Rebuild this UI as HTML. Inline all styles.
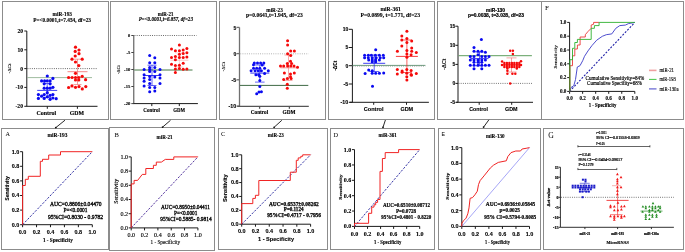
<!DOCTYPE html>
<html><head><meta charset="utf-8"><style>
html,body{margin:0;padding:0;background:#fff;width:685px;height:252px;overflow:hidden}
svg{display:block;will-change:transform}
text{stroke:currentColor;stroke-width:0.12px}
</style></head><body>
<svg width="685" height="252" viewBox="0 0 685 252" shape-rendering="geometricPrecision">
<rect width="685" height="252" fill="#fff"/>
<rect x="2.5" y="1.5" width="106" height="118" fill="none" stroke="#8c8c8c" stroke-width="1"/>
<rect x="110.5" y="1.5" width="106" height="118" fill="none" stroke="#8c8c8c" stroke-width="1"/>
<rect x="219.5" y="1.5" width="106" height="118" fill="none" stroke="#8c8c8c" stroke-width="1"/>
<rect x="328.5" y="1.5" width="106" height="118" fill="none" stroke="#8c8c8c" stroke-width="1"/>
<rect x="437.5" y="1.5" width="104" height="118" fill="none" stroke="#8c8c8c" stroke-width="1"/>
<rect x="541.5" y="1.5" width="142" height="118" fill="none" stroke="#8c8c8c" stroke-width="1"/>
<rect x="1.5" y="128.5" width="107" height="121" fill="none" stroke="#8c8c8c" stroke-width="1"/>
<rect x="109.5" y="127.5" width="105" height="123" fill="none" stroke="#8c8c8c" stroke-width="1"/>
<rect x="218.5" y="128.5" width="109" height="121" fill="none" stroke="#8c8c8c" stroke-width="1"/>
<rect x="330.5" y="128.5" width="104" height="121" fill="none" stroke="#8c8c8c" stroke-width="1"/>
<rect x="438.5" y="128.5" width="102" height="121" fill="none" stroke="#8c8c8c" stroke-width="1"/>
<rect x="543.5" y="128.5" width="140" height="121" fill="none" stroke="#8c8c8c" stroke-width="1"/>
<line x1="65.00" y1="120.20" x2="55.80" y2="127.60" stroke="#111" stroke-width="0.9" />
<circle cx="55.80" cy="127.60" r="0.9" fill="#111"/>
<line x1="170.50" y1="120.30" x2="162.60" y2="127.10" stroke="#111" stroke-width="0.9" />
<circle cx="162.60" cy="127.10" r="0.9" fill="#111"/>
<line x1="281.80" y1="120.30" x2="274.10" y2="127.30" stroke="#111" stroke-width="0.9" />
<circle cx="274.10" cy="127.30" r="0.9" fill="#111"/>
<line x1="385.40" y1="120.00" x2="383.00" y2="127.30" stroke="#111" stroke-width="0.9" />
<circle cx="383.00" cy="127.30" r="0.9" fill="#111"/>
<line x1="488.90" y1="119.80" x2="483.60" y2="127.10" stroke="#111" stroke-width="0.9" />
<circle cx="483.60" cy="127.10" r="0.9" fill="#111"/>
<text x="52.60" y="16.00" font-family="'Liberation Serif', serif" font-weight="bold" font-size="5.8" fill="#000" textLength="19.40" lengthAdjust="spacingAndGlyphs">miR-193</text>
<text x="33.20" y="21.60" font-family="'Liberation Serif', serif" font-weight="bold" font-size="5.6" fill="#000" textLength="57.80" lengthAdjust="spacingAndGlyphs">P=&lt;0.0001,t=7.454, df=23</text>
<line x1="26.80" y1="31.00" x2="26.80" y2="106.30" stroke="#1a1a1a" stroke-width="1.0" />
<line x1="24.30" y1="31.00" x2="26.80" y2="31.00" stroke="#1a1a1a" stroke-width="1.0" />
<line x1="24.30" y1="49.80" x2="26.80" y2="49.80" stroke="#1a1a1a" stroke-width="1.0" />
<line x1="24.30" y1="68.60" x2="26.80" y2="68.60" stroke="#1a1a1a" stroke-width="1.0" />
<line x1="24.30" y1="87.40" x2="26.80" y2="87.40" stroke="#1a1a1a" stroke-width="1.0" />
<line x1="24.30" y1="106.30" x2="26.80" y2="106.30" stroke="#1a1a1a" stroke-width="1.0" />
<text x="17.40" y="32.90" font-family="'Liberation Serif', serif" font-weight="bold" font-size="5.5" fill="#000" textLength="5.60" lengthAdjust="spacingAndGlyphs">20</text>
<text x="17.40" y="51.70" font-family="'Liberation Serif', serif" font-weight="bold" font-size="5.5" fill="#000" textLength="5.60" lengthAdjust="spacingAndGlyphs">10</text>
<text x="20.20" y="70.50" font-family="'Liberation Serif', serif" font-weight="bold" font-size="5.5" fill="#000" textLength="2.80" lengthAdjust="spacingAndGlyphs">0</text>
<text x="15.50" y="89.30" font-family="'Liberation Serif', serif" font-weight="bold" font-size="5.5" fill="#000" textLength="7.50" lengthAdjust="spacingAndGlyphs">-10</text>
<text x="15.50" y="108.20" font-family="'Liberation Serif', serif" font-weight="bold" font-size="5.5" fill="#000" textLength="7.50" lengthAdjust="spacingAndGlyphs">-20</text>
<line x1="26.40" y1="106.30" x2="97.50" y2="106.30" stroke="#1a1a1a" stroke-width="1.0" />
<line x1="47.30" y1="106.30" x2="47.30" y2="108.80" stroke="#1a1a1a" stroke-width="1.0" />
<line x1="77.40" y1="106.30" x2="77.40" y2="108.80" stroke="#1a1a1a" stroke-width="1.0" />
<text x="36.50" y="115.30" font-family="'Liberation Serif', serif" font-weight="bold" font-size="5.6" fill="#000" textLength="19.70" lengthAdjust="spacingAndGlyphs">Control</text>
<text x="69.80" y="115.30" font-family="'Liberation Serif', serif" font-weight="bold" font-size="5.6" fill="#000" textLength="14.30" lengthAdjust="spacingAndGlyphs">GDM</text>
<text transform="translate(11.00,73.50) rotate(-90)" x="0" y="0" font-family="'Liberation Serif', serif" font-weight="normal" font-size="5" fill="#000" textLength="9.90" lengthAdjust="spacingAndGlyphs">-ΔCt</text>
<line x1="27.50" y1="68.60" x2="97.00" y2="68.60" stroke="#333" stroke-width="0.8" stroke-dasharray="0.9 1.3"/>
<line x1="27.30" y1="77.60" x2="92.00" y2="77.60" stroke="#86aa86" stroke-width="0.8" />
<line x1="67.50" y1="71.70" x2="87.50" y2="71.70" stroke="#f06868" stroke-width="0.8" />
<line x1="77.50" y1="59.20" x2="77.50" y2="84.50" stroke="#f06868" stroke-width="0.6400000000000001" />
<line x1="73.50" y1="59.20" x2="81.50" y2="59.20" stroke="#f06868" stroke-width="0.6400000000000001" />
<line x1="73.50" y1="84.50" x2="81.50" y2="84.50" stroke="#f06868" stroke-width="0.6400000000000001" />
<line x1="37.20" y1="90.40" x2="57.20" y2="90.40" stroke="#0a0af0" stroke-width="0.8" />
<line x1="47.20" y1="83.50" x2="47.20" y2="97.50" stroke="#0a0af0" stroke-width="0.6400000000000001" />
<line x1="43.20" y1="83.50" x2="51.20" y2="83.50" stroke="#0a0af0" stroke-width="0.6400000000000001" />
<line x1="43.20" y1="97.50" x2="51.20" y2="97.50" stroke="#0a0af0" stroke-width="0.6400000000000001" />
<circle cx="47.30" cy="76.00" r="1.6" fill="#0a0af0"/>
<circle cx="52.90" cy="78.40" r="1.6" fill="#0a0af0"/>
<circle cx="41.60" cy="80.90" r="1.6" fill="#0a0af0"/>
<circle cx="44.60" cy="80.90" r="1.6" fill="#0a0af0"/>
<circle cx="47.30" cy="80.90" r="1.6" fill="#0a0af0"/>
<circle cx="50.10" cy="80.90" r="1.6" fill="#0a0af0"/>
<circle cx="44.20" cy="83.80" r="1.6" fill="#0a0af0"/>
<circle cx="50.10" cy="83.80" r="1.6" fill="#0a0af0"/>
<circle cx="44.20" cy="88.20" r="1.6" fill="#0a0af0"/>
<circle cx="47.30" cy="88.20" r="1.6" fill="#0a0af0"/>
<circle cx="50.10" cy="88.20" r="1.6" fill="#0a0af0"/>
<circle cx="52.90" cy="87.30" r="1.6" fill="#0a0af0"/>
<circle cx="47.30" cy="92.70" r="1.6" fill="#0a0af0"/>
<circle cx="38.40" cy="94.60" r="1.6" fill="#0a0af0"/>
<circle cx="44.20" cy="94.60" r="1.6" fill="#0a0af0"/>
<circle cx="50.10" cy="95.30" r="1.6" fill="#0a0af0"/>
<circle cx="52.90" cy="94.60" r="1.6" fill="#0a0af0"/>
<circle cx="41.60" cy="96.20" r="1.6" fill="#0a0af0"/>
<circle cx="47.30" cy="96.80" r="1.6" fill="#0a0af0"/>
<circle cx="38.40" cy="98.40" r="1.6" fill="#0a0af0"/>
<circle cx="44.20" cy="98.40" r="1.6" fill="#0a0af0"/>
<circle cx="50.10" cy="99.30" r="1.6" fill="#0a0af0"/>
<circle cx="52.90" cy="98.00" r="1.6" fill="#0a0af0"/>
<circle cx="56.20" cy="98.70" r="1.6" fill="#0a0af0"/>
<circle cx="75.50" cy="47.20" r="1.6" fill="#f50a0a"/>
<circle cx="79.00" cy="50.00" r="1.6" fill="#f50a0a"/>
<circle cx="75.20" cy="51.40" r="1.6" fill="#f50a0a"/>
<circle cx="79.00" cy="53.70" r="1.6" fill="#f50a0a"/>
<circle cx="75.20" cy="56.00" r="1.6" fill="#f50a0a"/>
<circle cx="72.00" cy="59.20" r="1.6" fill="#f50a0a"/>
<circle cx="82.20" cy="59.20" r="1.6" fill="#f50a0a"/>
<circle cx="75.50" cy="62.00" r="1.6" fill="#f50a0a"/>
<circle cx="78.80" cy="65.60" r="1.6" fill="#f50a0a"/>
<circle cx="75.50" cy="73.30" r="1.6" fill="#f50a0a"/>
<circle cx="68.60" cy="77.50" r="1.6" fill="#f50a0a"/>
<circle cx="72.10" cy="77.50" r="1.6" fill="#f50a0a"/>
<circle cx="75.50" cy="77.50" r="1.6" fill="#f50a0a"/>
<circle cx="78.80" cy="77.50" r="1.6" fill="#f50a0a"/>
<circle cx="82.20" cy="76.30" r="1.6" fill="#f50a0a"/>
<circle cx="75.50" cy="80.00" r="1.6" fill="#f50a0a"/>
<circle cx="78.80" cy="80.00" r="1.6" fill="#f50a0a"/>
<circle cx="85.60" cy="79.70" r="1.6" fill="#f50a0a"/>
<circle cx="68.60" cy="87.50" r="1.6" fill="#f50a0a"/>
<circle cx="72.00" cy="85.90" r="1.6" fill="#f50a0a"/>
<circle cx="75.50" cy="87.30" r="1.6" fill="#f50a0a"/>
<circle cx="79.00" cy="86.60" r="1.6" fill="#f50a0a"/>
<circle cx="82.30" cy="88.90" r="1.6" fill="#f50a0a"/>
<circle cx="85.80" cy="86.60" r="1.6" fill="#f50a0a"/>
<text x="157.80" y="16.10" font-family="'Liberation Serif', serif" font-weight="bold" font-size="6" fill="#000" textLength="15.60" lengthAdjust="spacingAndGlyphs">miR-21</text>
<text x="138.80" y="21.40" font-family="'Liberation Serif', serif" font-weight="bold" font-style="italic" font-size="5.6" fill="#000" textLength="54.10" lengthAdjust="spacingAndGlyphs">P=&lt;0.0001,t=6.857, df=23</text>
<line x1="133.80" y1="35.50" x2="133.80" y2="103.60" stroke="#444" stroke-width="1.0" />
<line x1="131.30" y1="35.50" x2="133.80" y2="35.50" stroke="#444" stroke-width="1.0" />
<line x1="131.30" y1="52.50" x2="133.80" y2="52.50" stroke="#444" stroke-width="1.0" />
<line x1="131.30" y1="69.50" x2="133.80" y2="69.50" stroke="#444" stroke-width="1.0" />
<line x1="131.30" y1="86.50" x2="133.80" y2="86.50" stroke="#444" stroke-width="1.0" />
<line x1="131.30" y1="103.60" x2="133.80" y2="103.60" stroke="#444" stroke-width="1.0" />
<text x="128.10" y="37.10" font-family="'Liberation Serif', serif" font-weight="bold" font-size="4.8" fill="#000" textLength="2.20" lengthAdjust="spacingAndGlyphs">0</text>
<text x="126.50" y="54.10" font-family="'Liberation Serif', serif" font-weight="bold" font-size="4.8" fill="#000" textLength="3.80" lengthAdjust="spacingAndGlyphs">-5</text>
<text x="124.10" y="71.10" font-family="'Liberation Serif', serif" font-weight="bold" font-size="4.8" fill="#000" textLength="6.20" lengthAdjust="spacingAndGlyphs">-10</text>
<text x="124.10" y="88.10" font-family="'Liberation Serif', serif" font-weight="bold" font-size="4.8" fill="#000" textLength="6.20" lengthAdjust="spacingAndGlyphs">-15</text>
<text x="124.10" y="105.20" font-family="'Liberation Serif', serif" font-weight="bold" font-size="4.8" fill="#000" textLength="6.20" lengthAdjust="spacingAndGlyphs">-20</text>
<line x1="133.40" y1="103.60" x2="197.90" y2="103.60" stroke="#1a1a1a" stroke-width="1.0" />
<line x1="151.80" y1="103.60" x2="151.80" y2="106.10" stroke="#1a1a1a" stroke-width="1.0" />
<line x1="179.30" y1="103.60" x2="179.30" y2="106.10" stroke="#1a1a1a" stroke-width="1.0" />
<text x="143.30" y="111.60" font-family="'Liberation Serif', serif" font-weight="bold" font-size="5.2" fill="#000" textLength="16.50" lengthAdjust="spacingAndGlyphs">Control</text>
<text x="173.20" y="111.60" font-family="'Liberation Serif', serif" font-weight="bold" font-size="5.2" fill="#000" textLength="11.80" lengthAdjust="spacingAndGlyphs">GDM</text>
<text transform="translate(120.40,74.00) rotate(-90)" x="0" y="0" font-family="'Liberation Serif', serif" font-weight="normal" font-size="5" fill="#000" textLength="8.90" lengthAdjust="spacingAndGlyphs">-ΔCt</text>
<line x1="134.50" y1="35.50" x2="196.50" y2="35.50" stroke="#333" stroke-width="0.8" stroke-dasharray="0.9 1.3"/>
<line x1="134.30" y1="70.00" x2="192.50" y2="70.00" stroke="#2f6a2f" stroke-width="0.9" />
<line x1="170.40" y1="60.20" x2="188.40" y2="60.20" stroke="#f8a0a0" stroke-width="0.6" />
<line x1="179.40" y1="53.00" x2="179.40" y2="67.00" stroke="#f8a0a0" stroke-width="0.48" />
<line x1="175.40" y1="53.00" x2="183.40" y2="53.00" stroke="#f8a0a0" stroke-width="0.48" />
<line x1="175.40" y1="67.00" x2="183.40" y2="67.00" stroke="#f8a0a0" stroke-width="0.48" />
<line x1="143.00" y1="75.50" x2="161.00" y2="75.50" stroke="#0a0af0" stroke-width="0.8" />
<line x1="152.00" y1="65.20" x2="152.00" y2="85.50" stroke="#0a0af0" stroke-width="0.6400000000000001" />
<line x1="147.50" y1="65.20" x2="156.50" y2="65.20" stroke="#0a0af0" stroke-width="0.6400000000000001" />
<line x1="147.50" y1="85.50" x2="156.50" y2="85.50" stroke="#0a0af0" stroke-width="0.6400000000000001" />
<circle cx="149.70" cy="55.40" r="1.5" fill="#0a0af0"/>
<circle cx="154.80" cy="57.80" r="1.5" fill="#0a0af0"/>
<circle cx="149.70" cy="62.80" r="1.5" fill="#0a0af0"/>
<circle cx="154.80" cy="62.80" r="1.5" fill="#0a0af0"/>
<circle cx="149.70" cy="67.60" r="1.5" fill="#0a0af0"/>
<circle cx="154.80" cy="67.60" r="1.5" fill="#0a0af0"/>
<circle cx="144.10" cy="69.50" r="1.5" fill="#0a0af0"/>
<circle cx="149.70" cy="69.50" r="1.5" fill="#0a0af0"/>
<circle cx="160.00" cy="69.50" r="1.5" fill="#0a0af0"/>
<circle cx="149.70" cy="71.50" r="1.5" fill="#0a0af0"/>
<circle cx="154.80" cy="71.50" r="1.5" fill="#0a0af0"/>
<circle cx="144.10" cy="74.70" r="1.5" fill="#0a0af0"/>
<circle cx="160.00" cy="74.70" r="1.5" fill="#0a0af0"/>
<circle cx="149.70" cy="76.60" r="1.5" fill="#0a0af0"/>
<circle cx="154.80" cy="77.00" r="1.5" fill="#0a0af0"/>
<circle cx="144.10" cy="77.90" r="1.5" fill="#0a0af0"/>
<circle cx="160.00" cy="77.90" r="1.5" fill="#0a0af0"/>
<circle cx="149.70" cy="79.50" r="1.5" fill="#0a0af0"/>
<circle cx="144.10" cy="81.20" r="1.5" fill="#0a0af0"/>
<circle cx="149.70" cy="83.40" r="1.5" fill="#0a0af0"/>
<circle cx="160.00" cy="83.40" r="1.5" fill="#0a0af0"/>
<circle cx="144.10" cy="86.10" r="1.5" fill="#0a0af0"/>
<circle cx="149.70" cy="87.40" r="1.5" fill="#0a0af0"/>
<circle cx="154.80" cy="87.40" r="1.5" fill="#0a0af0"/>
<circle cx="154.80" cy="90.90" r="1.5" fill="#0a0af0"/>
<circle cx="149.70" cy="91.80" r="1.5" fill="#0a0af0"/>
<circle cx="179.40" cy="44.90" r="1.5" fill="#f50a0a"/>
<circle cx="171.50" cy="49.00" r="1.5" fill="#f50a0a"/>
<circle cx="175.40" cy="50.80" r="1.5" fill="#f50a0a"/>
<circle cx="179.40" cy="50.80" r="1.5" fill="#f50a0a"/>
<circle cx="183.20" cy="50.00" r="1.5" fill="#f50a0a"/>
<circle cx="186.90" cy="48.60" r="1.5" fill="#f50a0a"/>
<circle cx="179.40" cy="54.20" r="1.5" fill="#f50a0a"/>
<circle cx="183.20" cy="53.40" r="1.5" fill="#f50a0a"/>
<circle cx="186.90" cy="52.70" r="1.5" fill="#f50a0a"/>
<circle cx="175.40" cy="56.40" r="1.5" fill="#f50a0a"/>
<circle cx="171.50" cy="57.40" r="1.5" fill="#f50a0a"/>
<circle cx="179.40" cy="57.40" r="1.5" fill="#f50a0a"/>
<circle cx="183.20" cy="57.40" r="1.5" fill="#f50a0a"/>
<circle cx="186.90" cy="57.10" r="1.5" fill="#f50a0a"/>
<circle cx="175.40" cy="59.80" r="1.5" fill="#f50a0a"/>
<circle cx="171.50" cy="64.20" r="1.5" fill="#f50a0a"/>
<circle cx="175.40" cy="65.60" r="1.5" fill="#f50a0a"/>
<circle cx="179.40" cy="65.20" r="1.5" fill="#f50a0a"/>
<circle cx="183.20" cy="63.30" r="1.5" fill="#f50a0a"/>
<circle cx="175.40" cy="68.90" r="1.5" fill="#f50a0a"/>
<circle cx="179.40" cy="68.60" r="1.5" fill="#f50a0a"/>
<circle cx="183.20" cy="69.30" r="1.5" fill="#f50a0a"/>
<circle cx="186.90" cy="68.90" r="1.5" fill="#f50a0a"/>
<circle cx="175.40" cy="72.60" r="1.5" fill="#f50a0a"/>
<text x="266.30" y="12.10" font-family="'Liberation Serif', serif" font-weight="bold" font-size="5.4" fill="#000" textLength="16.50" lengthAdjust="spacingAndGlyphs">miR-23</text>
<text x="246.00" y="17.20" font-family="'Liberation Serif', serif" font-weight="bold" font-size="5.4" fill="#000" textLength="56.80" lengthAdjust="spacingAndGlyphs">p=0.0641,t=1.945, df=23</text>
<line x1="239.50" y1="27.40" x2="239.50" y2="106.30" stroke="#707070" stroke-width="1.3" />
<line x1="236.50" y1="27.40" x2="239.50" y2="27.40" stroke="#707070" stroke-width="1.3" />
<line x1="236.50" y1="53.60" x2="239.50" y2="53.60" stroke="#707070" stroke-width="1.3" />
<line x1="236.50" y1="79.80" x2="239.50" y2="79.80" stroke="#707070" stroke-width="1.3" />
<line x1="236.50" y1="106.10" x2="239.50" y2="106.10" stroke="#707070" stroke-width="1.3" />
<text x="233.50" y="29.60" font-family="'Liberation Sans', sans-serif" font-weight="bold" font-size="5.2" fill="#000" textLength="2.80" lengthAdjust="spacingAndGlyphs">5</text>
<text x="233.50" y="55.70" font-family="'Liberation Sans', sans-serif" font-weight="bold" font-size="5.2" fill="#000" textLength="2.80" lengthAdjust="spacingAndGlyphs">0</text>
<text x="231.50" y="81.80" font-family="'Liberation Sans', sans-serif" font-weight="bold" font-size="5.2" fill="#000" textLength="4.80" lengthAdjust="spacingAndGlyphs">-5</text>
<text x="228.60" y="107.80" font-family="'Liberation Sans', sans-serif" font-weight="bold" font-size="5.2" fill="#000" textLength="7.70" lengthAdjust="spacingAndGlyphs">-10</text>
<line x1="237.30" y1="106.30" x2="308.80" y2="106.30" stroke="#555" stroke-width="1.3" />
<line x1="259.60" y1="106.30" x2="259.60" y2="108.80" stroke="#555" stroke-width="1.3" />
<line x1="289.40" y1="106.30" x2="289.40" y2="108.80" stroke="#555" stroke-width="1.3" />
<text x="250.70" y="114.10" font-family="'Liberation Serif', serif" font-weight="bold" font-size="5.2" fill="#000" textLength="17.50" lengthAdjust="spacingAndGlyphs">Control</text>
<text x="282.50" y="114.10" font-family="'Liberation Serif', serif" font-weight="bold" font-size="5.2" fill="#000" textLength="13.10" lengthAdjust="spacingAndGlyphs">GDM</text>
<text transform="translate(225.10,71.40) rotate(-90)" x="0" y="0" font-family="'Liberation Serif', serif" font-weight="normal" font-size="5" fill="#000" textLength="9.50" lengthAdjust="spacingAndGlyphs">-ΔCt</text>
<line x1="240.30" y1="53.80" x2="308.70" y2="53.80" stroke="#999" stroke-width="0.8" stroke-dasharray="0.9 1.3"/>
<line x1="240.00" y1="85.40" x2="308.30" y2="85.40" stroke="#3f6a45" stroke-width="1.0" />
<line x1="250.30" y1="73.10" x2="269.30" y2="73.10" stroke="#0a0af0" stroke-width="0.8" />
<line x1="259.80" y1="65.00" x2="259.80" y2="82.10" stroke="#0a0af0" stroke-width="0.6400000000000001" />
<line x1="255.00" y1="65.00" x2="264.60" y2="65.00" stroke="#0a0af0" stroke-width="0.6400000000000001" />
<line x1="255.00" y1="82.10" x2="264.60" y2="82.10" stroke="#0a0af0" stroke-width="0.6400000000000001" />
<line x1="280.50" y1="67.80" x2="296.50" y2="67.80" stroke="#f27a7a" stroke-width="0.8" />
<line x1="288.50" y1="55.00" x2="288.50" y2="80.50" stroke="#f27a7a" stroke-width="0.6400000000000001" />
<line x1="284.50" y1="55.00" x2="292.50" y2="55.00" stroke="#f27a7a" stroke-width="0.6400000000000001" />
<line x1="284.50" y1="80.50" x2="292.50" y2="80.50" stroke="#f27a7a" stroke-width="0.6400000000000001" />
<circle cx="254.30" cy="63.10" r="1.5" fill="#0a0af0"/>
<circle cx="257.50" cy="63.10" r="1.5" fill="#0a0af0"/>
<circle cx="260.60" cy="63.10" r="1.5" fill="#0a0af0"/>
<circle cx="263.80" cy="63.10" r="1.5" fill="#0a0af0"/>
<circle cx="253.50" cy="64.70" r="1.5" fill="#0a0af0"/>
<circle cx="262.20" cy="65.10" r="1.5" fill="#0a0af0"/>
<circle cx="253.50" cy="68.30" r="1.5" fill="#0a0af0"/>
<circle cx="256.70" cy="68.30" r="1.5" fill="#0a0af0"/>
<circle cx="259.80" cy="68.30" r="1.5" fill="#0a0af0"/>
<circle cx="264.60" cy="68.30" r="1.5" fill="#0a0af0"/>
<circle cx="251.10" cy="70.70" r="1.5" fill="#0a0af0"/>
<circle cx="255.10" cy="70.70" r="1.5" fill="#0a0af0"/>
<circle cx="258.30" cy="70.70" r="1.5" fill="#0a0af0"/>
<circle cx="261.40" cy="70.70" r="1.5" fill="#0a0af0"/>
<circle cx="268.30" cy="70.70" r="1.5" fill="#0a0af0"/>
<circle cx="255.90" cy="74.70" r="1.5" fill="#0a0af0"/>
<circle cx="258.70" cy="74.70" r="1.5" fill="#0a0af0"/>
<circle cx="264.60" cy="73.60" r="1.5" fill="#0a0af0"/>
<circle cx="259.80" cy="76.30" r="1.5" fill="#0a0af0"/>
<circle cx="259.80" cy="80.50" r="1.5" fill="#0a0af0"/>
<circle cx="259.80" cy="86.60" r="1.5" fill="#0a0af0"/>
<circle cx="261.40" cy="91.70" r="1.5" fill="#0a0af0"/>
<circle cx="259.00" cy="92.10" r="1.5" fill="#0a0af0"/>
<circle cx="256.70" cy="93.70" r="1.5" fill="#0a0af0"/>
<circle cx="287.60" cy="40.80" r="1.5" fill="#f50a0a"/>
<circle cx="287.60" cy="45.10" r="1.5" fill="#f50a0a"/>
<circle cx="290.70" cy="51.10" r="1.5" fill="#f50a0a"/>
<circle cx="294.40" cy="51.10" r="1.5" fill="#f50a0a"/>
<circle cx="287.60" cy="53.80" r="1.5" fill="#f50a0a"/>
<circle cx="290.70" cy="55.40" r="1.5" fill="#f50a0a"/>
<circle cx="290.50" cy="61.20" r="1.5" fill="#f50a0a"/>
<circle cx="287.30" cy="63.60" r="1.5" fill="#f50a0a"/>
<circle cx="291.60" cy="63.60" r="1.5" fill="#f50a0a"/>
<circle cx="280.50" cy="65.90" r="1.5" fill="#f50a0a"/>
<circle cx="283.70" cy="65.90" r="1.5" fill="#f50a0a"/>
<circle cx="287.60" cy="65.90" r="1.5" fill="#f50a0a"/>
<circle cx="290.80" cy="65.90" r="1.5" fill="#f50a0a"/>
<circle cx="294.00" cy="65.90" r="1.5" fill="#f50a0a"/>
<circle cx="297.50" cy="67.20" r="1.5" fill="#f50a0a"/>
<circle cx="284.40" cy="73.10" r="1.5" fill="#f50a0a"/>
<circle cx="290.50" cy="73.90" r="1.5" fill="#f50a0a"/>
<circle cx="294.30" cy="73.10" r="1.5" fill="#f50a0a"/>
<circle cx="290.50" cy="76.70" r="1.5" fill="#f50a0a"/>
<circle cx="283.70" cy="79.40" r="1.5" fill="#f50a0a"/>
<circle cx="287.30" cy="78.60" r="1.5" fill="#f50a0a"/>
<circle cx="291.10" cy="78.60" r="1.5" fill="#f50a0a"/>
<circle cx="287.30" cy="84.20" r="1.5" fill="#f50a0a"/>
<circle cx="287.30" cy="88.20" r="1.5" fill="#f50a0a"/>
<text x="380.40" y="10.60" font-family="'Liberation Serif', serif" font-weight="bold" font-size="5.6" fill="#000" textLength="20.30" lengthAdjust="spacingAndGlyphs">miR-361</text>
<text x="360.50" y="16.80" font-family="'Liberation Serif', serif" font-weight="bold" font-size="5.8" fill="#000" textLength="59.50" lengthAdjust="spacingAndGlyphs">P=0.0899, t=1.771, df=23</text>
<line x1="352.40" y1="29.30" x2="352.40" y2="102.30" stroke="#1a1a1a" stroke-width="1.0" />
<line x1="348.80" y1="29.30" x2="352.40" y2="29.30" stroke="#1a1a1a" stroke-width="1.0" />
<line x1="348.80" y1="47.50" x2="352.40" y2="47.50" stroke="#1a1a1a" stroke-width="1.0" />
<line x1="348.80" y1="65.70" x2="352.40" y2="65.70" stroke="#1a1a1a" stroke-width="1.0" />
<line x1="348.80" y1="84.00" x2="352.40" y2="84.00" stroke="#1a1a1a" stroke-width="1.0" />
<line x1="348.80" y1="102.30" x2="352.40" y2="102.30" stroke="#1a1a1a" stroke-width="1.0" />
<text x="342.70" y="31.20" font-family="'Liberation Sans', sans-serif" font-weight="bold" font-size="5.2" fill="#000" textLength="5.60" lengthAdjust="spacingAndGlyphs">10</text>
<text x="345.50" y="49.40" font-family="'Liberation Sans', sans-serif" font-weight="bold" font-size="5.2" fill="#000" textLength="2.80" lengthAdjust="spacingAndGlyphs">5</text>
<text x="345.50" y="67.60" font-family="'Liberation Sans', sans-serif" font-weight="bold" font-size="5.2" fill="#000" textLength="2.80" lengthAdjust="spacingAndGlyphs">0</text>
<text x="343.50" y="85.90" font-family="'Liberation Sans', sans-serif" font-weight="bold" font-size="5.2" fill="#000" textLength="4.80" lengthAdjust="spacingAndGlyphs">-5</text>
<text x="340.60" y="104.20" font-family="'Liberation Sans', sans-serif" font-weight="bold" font-size="5.2" fill="#000" textLength="7.70" lengthAdjust="spacingAndGlyphs">-10</text>
<line x1="349.80" y1="102.30" x2="428.90" y2="102.30" stroke="#1a1a1a" stroke-width="1.0" />
<line x1="373.70" y1="102.30" x2="373.70" y2="104.80" stroke="#1a1a1a" stroke-width="1.0" />
<line x1="406.50" y1="102.30" x2="406.50" y2="104.80" stroke="#1a1a1a" stroke-width="1.0" />
<text x="363.80" y="111.30" font-family="'Liberation Sans', sans-serif" font-weight="bold" font-size="5.6" fill="#000" textLength="19.70" lengthAdjust="spacingAndGlyphs">Control</text>
<text x="400.40" y="111.30" font-family="'Liberation Sans', sans-serif" font-weight="bold" font-size="5.6" fill="#000" textLength="12.80" lengthAdjust="spacingAndGlyphs">GDM</text>
<text transform="translate(337.40,70.80) rotate(-90)" x="0" y="0" font-family="'Liberation Sans', sans-serif" font-weight="bold" font-size="5" fill="#000" textLength="10.10" lengthAdjust="spacingAndGlyphs">-ΔCt</text>
<line x1="352.60" y1="66.10" x2="425.40" y2="66.10" stroke="#777" stroke-width="0.8" stroke-dasharray="0.9 1.3"/>
<line x1="352.60" y1="65.40" x2="425.40" y2="65.40" stroke="#5f9070" stroke-width="0.9" />
<line x1="363.20" y1="63.30" x2="385.20" y2="63.30" stroke="#0a0af0" stroke-width="0.8" />
<line x1="374.20" y1="55.00" x2="374.20" y2="71.50" stroke="#0a0af0" stroke-width="0.6400000000000001" />
<line x1="369.20" y1="55.00" x2="379.20" y2="55.00" stroke="#0a0af0" stroke-width="0.6400000000000001" />
<line x1="369.20" y1="71.50" x2="379.20" y2="71.50" stroke="#0a0af0" stroke-width="0.6400000000000001" />
<line x1="395.90" y1="56.40" x2="417.90" y2="56.40" stroke="#f50a0a" stroke-width="0.8" />
<line x1="406.90" y1="40.00" x2="406.90" y2="72.50" stroke="#f50a0a" stroke-width="0.6400000000000001" />
<line x1="401.90" y1="40.00" x2="411.90" y2="40.00" stroke="#f50a0a" stroke-width="0.6400000000000001" />
<line x1="401.90" y1="72.50" x2="411.90" y2="72.50" stroke="#f50a0a" stroke-width="0.6400000000000001" />
<circle cx="375.70" cy="49.80" r="1.5" fill="#0a0af0"/>
<circle cx="364.60" cy="55.30" r="1.5" fill="#0a0af0"/>
<circle cx="368.30" cy="55.30" r="1.5" fill="#0a0af0"/>
<circle cx="371.40" cy="55.30" r="1.5" fill="#0a0af0"/>
<circle cx="375.40" cy="55.30" r="1.5" fill="#0a0af0"/>
<circle cx="379.40" cy="55.30" r="1.5" fill="#0a0af0"/>
<circle cx="383.30" cy="55.30" r="1.5" fill="#0a0af0"/>
<circle cx="364.60" cy="57.70" r="1.5" fill="#0a0af0"/>
<circle cx="368.30" cy="57.70" r="1.5" fill="#0a0af0"/>
<circle cx="372.20" cy="57.70" r="1.5" fill="#0a0af0"/>
<circle cx="376.20" cy="57.70" r="1.5" fill="#0a0af0"/>
<circle cx="380.20" cy="57.70" r="1.5" fill="#0a0af0"/>
<circle cx="383.70" cy="57.70" r="1.5" fill="#0a0af0"/>
<circle cx="368.70" cy="60.10" r="1.5" fill="#0a0af0"/>
<circle cx="372.20" cy="60.10" r="1.5" fill="#0a0af0"/>
<circle cx="375.70" cy="60.10" r="1.5" fill="#0a0af0"/>
<circle cx="379.40" cy="60.10" r="1.5" fill="#0a0af0"/>
<circle cx="372.20" cy="61.70" r="1.5" fill="#0a0af0"/>
<circle cx="375.70" cy="61.70" r="1.5" fill="#0a0af0"/>
<circle cx="368.70" cy="70.10" r="1.5" fill="#0a0af0"/>
<circle cx="372.20" cy="70.70" r="1.5" fill="#0a0af0"/>
<circle cx="365.10" cy="73.60" r="1.5" fill="#0a0af0"/>
<circle cx="372.20" cy="73.30" r="1.5" fill="#0a0af0"/>
<circle cx="375.70" cy="73.30" r="1.5" fill="#0a0af0"/>
<circle cx="379.40" cy="73.30" r="1.5" fill="#0a0af0"/>
<circle cx="383.70" cy="73.00" r="1.5" fill="#0a0af0"/>
<circle cx="372.50" cy="86.30" r="1.5" fill="#0a0af0"/>
<circle cx="406.90" cy="31.30" r="1.5" fill="#f50a0a"/>
<circle cx="401.80" cy="36.10" r="1.5" fill="#f50a0a"/>
<circle cx="406.90" cy="38.50" r="1.5" fill="#f50a0a"/>
<circle cx="401.80" cy="40.10" r="1.5" fill="#f50a0a"/>
<circle cx="411.70" cy="40.90" r="1.5" fill="#f50a0a"/>
<circle cx="406.90" cy="42.50" r="1.5" fill="#f50a0a"/>
<circle cx="401.80" cy="46.00" r="1.5" fill="#f50a0a"/>
<circle cx="411.70" cy="48.00" r="1.5" fill="#f50a0a"/>
<circle cx="397.40" cy="51.20" r="1.5" fill="#f50a0a"/>
<circle cx="406.90" cy="50.60" r="1.5" fill="#f50a0a"/>
<circle cx="411.70" cy="51.30" r="1.5" fill="#f50a0a"/>
<circle cx="416.30" cy="52.60" r="1.5" fill="#f50a0a"/>
<circle cx="406.90" cy="53.90" r="1.5" fill="#f50a0a"/>
<circle cx="411.10" cy="54.80" r="1.5" fill="#f50a0a"/>
<circle cx="406.90" cy="57.20" r="1.5" fill="#f50a0a"/>
<circle cx="397.30" cy="69.60" r="1.5" fill="#f50a0a"/>
<circle cx="402.10" cy="71.00" r="1.5" fill="#f50a0a"/>
<circle cx="406.80" cy="69.60" r="1.5" fill="#f50a0a"/>
<circle cx="411.10" cy="70.40" r="1.5" fill="#f50a0a"/>
<circle cx="397.30" cy="73.90" r="1.5" fill="#f50a0a"/>
<circle cx="402.10" cy="72.30" r="1.5" fill="#f50a0a"/>
<circle cx="406.80" cy="73.30" r="1.5" fill="#f50a0a"/>
<circle cx="411.10" cy="74.40" r="1.5" fill="#f50a0a"/>
<circle cx="416.30" cy="73.60" r="1.5" fill="#f50a0a"/>
<circle cx="406.80" cy="76.70" r="1.5" fill="#f50a0a"/>
<circle cx="406.90" cy="79.90" r="1.5" fill="#f50a0a"/>
<circle cx="411.40" cy="75.20" r="1.5" fill="#f50a0a"/>
<text x="486.10" y="11.50" font-family="'Liberation Sans', sans-serif" font-weight="bold" font-size="5.2" fill="#000" textLength="18.90" lengthAdjust="spacingAndGlyphs" style="stroke-width:0.2px">miR-130</text>
<text x="468.00" y="17.40" font-family="'Liberation Sans', sans-serif" font-weight="bold" font-size="5.2" fill="#000" textLength="56.00" lengthAdjust="spacingAndGlyphs" style="stroke-width:0.2px">p=0.0038, t=3.035, df=23</text>
<line x1="458.00" y1="26.20" x2="458.00" y2="102.30" stroke="#1a1a1a" stroke-width="1.0" />
<line x1="455.50" y1="26.20" x2="458.00" y2="26.20" stroke="#1a1a1a" stroke-width="1.0" />
<line x1="455.50" y1="45.30" x2="458.00" y2="45.30" stroke="#1a1a1a" stroke-width="1.0" />
<line x1="455.50" y1="64.40" x2="458.00" y2="64.40" stroke="#1a1a1a" stroke-width="1.0" />
<line x1="455.50" y1="83.40" x2="458.00" y2="83.40" stroke="#1a1a1a" stroke-width="1.0" />
<line x1="455.50" y1="102.30" x2="458.00" y2="102.30" stroke="#1a1a1a" stroke-width="1.0" />
<text x="449.70" y="28.10" font-family="'Liberation Sans', sans-serif" font-weight="bold" font-size="5.2" fill="#000" textLength="5.60" lengthAdjust="spacingAndGlyphs">15</text>
<text x="449.70" y="47.20" font-family="'Liberation Sans', sans-serif" font-weight="bold" font-size="5.2" fill="#000" textLength="5.60" lengthAdjust="spacingAndGlyphs">10</text>
<text x="452.50" y="66.30" font-family="'Liberation Sans', sans-serif" font-weight="bold" font-size="5.2" fill="#000" textLength="2.80" lengthAdjust="spacingAndGlyphs">5</text>
<text x="452.50" y="85.30" font-family="'Liberation Sans', sans-serif" font-weight="bold" font-size="5.2" fill="#000" textLength="2.80" lengthAdjust="spacingAndGlyphs">0</text>
<text x="450.50" y="104.20" font-family="'Liberation Sans', sans-serif" font-weight="bold" font-size="5.2" fill="#000" textLength="4.80" lengthAdjust="spacingAndGlyphs">-5</text>
<line x1="456.20" y1="102.30" x2="533.00" y2="102.30" stroke="#1a1a1a" stroke-width="1.0" />
<line x1="479.20" y1="102.30" x2="479.20" y2="104.80" stroke="#1a1a1a" stroke-width="1.0" />
<line x1="511.70" y1="102.30" x2="511.70" y2="104.80" stroke="#1a1a1a" stroke-width="1.0" />
<text x="469.30" y="110.80" font-family="'Liberation Sans', sans-serif" font-weight="bold" font-size="5.4" fill="#000" textLength="18.70" lengthAdjust="spacingAndGlyphs">Control</text>
<text x="505.00" y="110.80" font-family="'Liberation Sans', sans-serif" font-weight="bold" font-size="5.4" fill="#000" textLength="12.60" lengthAdjust="spacingAndGlyphs">GDM</text>
<text transform="translate(446.40,70.00) rotate(-90)" x="0" y="0" font-family="'Liberation Sans', sans-serif" font-weight="normal" font-size="5" fill="#000" textLength="11.30" lengthAdjust="spacingAndGlyphs">-ΔCt</text>
<line x1="458.50" y1="83.40" x2="533.00" y2="83.40" stroke="#444" stroke-width="0.8" stroke-dasharray="0.9 1.3"/>
<line x1="458.50" y1="55.70" x2="531.90" y2="55.70" stroke="#5e9e5e" stroke-width="1.0" />
<line x1="470.50" y1="58.60" x2="488.50" y2="58.60" stroke="#0a0af0" stroke-width="0.8" />
<line x1="479.50" y1="52.00" x2="479.50" y2="65.80" stroke="#0a0af0" stroke-width="0.6400000000000001" />
<line x1="475.50" y1="52.00" x2="483.50" y2="52.00" stroke="#0a0af0" stroke-width="0.6400000000000001" />
<line x1="475.50" y1="65.80" x2="483.50" y2="65.80" stroke="#0a0af0" stroke-width="0.6400000000000001" />
<circle cx="481.40" cy="39.40" r="1.5" fill="#0a0af0"/>
<circle cx="474.00" cy="47.40" r="1.5" fill="#0a0af0"/>
<circle cx="474.00" cy="51.20" r="1.5" fill="#0a0af0"/>
<circle cx="478.00" cy="51.20" r="1.5" fill="#0a0af0"/>
<circle cx="481.80" cy="51.20" r="1.5" fill="#0a0af0"/>
<circle cx="485.40" cy="52.20" r="1.5" fill="#0a0af0"/>
<circle cx="478.00" cy="54.80" r="1.5" fill="#0a0af0"/>
<circle cx="470.30" cy="56.40" r="1.5" fill="#0a0af0"/>
<circle cx="474.00" cy="56.40" r="1.5" fill="#0a0af0"/>
<circle cx="481.80" cy="56.40" r="1.5" fill="#0a0af0"/>
<circle cx="485.40" cy="56.40" r="1.5" fill="#0a0af0"/>
<circle cx="489.00" cy="56.40" r="1.5" fill="#0a0af0"/>
<circle cx="470.30" cy="60.10" r="1.5" fill="#0a0af0"/>
<circle cx="474.00" cy="60.10" r="1.5" fill="#0a0af0"/>
<circle cx="478.00" cy="60.10" r="1.5" fill="#0a0af0"/>
<circle cx="481.80" cy="60.10" r="1.5" fill="#0a0af0"/>
<circle cx="485.40" cy="60.10" r="1.5" fill="#0a0af0"/>
<circle cx="474.00" cy="62.30" r="1.5" fill="#0a0af0"/>
<circle cx="478.00" cy="62.30" r="1.5" fill="#0a0af0"/>
<circle cx="481.80" cy="62.30" r="1.5" fill="#0a0af0"/>
<circle cx="470.30" cy="65.20" r="1.5" fill="#0a0af0"/>
<circle cx="474.00" cy="65.20" r="1.5" fill="#0a0af0"/>
<circle cx="478.00" cy="65.20" r="1.5" fill="#0a0af0"/>
<circle cx="481.80" cy="65.20" r="1.5" fill="#0a0af0"/>
<circle cx="485.40" cy="65.20" r="1.5" fill="#0a0af0"/>
<circle cx="489.00" cy="65.20" r="1.5" fill="#0a0af0"/>
<circle cx="474.00" cy="68.70" r="1.5" fill="#0a0af0"/>
<circle cx="481.80" cy="68.70" r="1.5" fill="#0a0af0"/>
<line x1="502.50" y1="64.60" x2="520.50" y2="64.60" stroke="#f07070" stroke-width="0.8" />
<line x1="511.50" y1="57.90" x2="511.50" y2="72.00" stroke="#f07070" stroke-width="0.6400000000000001" />
<line x1="506.50" y1="57.90" x2="516.50" y2="57.90" stroke="#f07070" stroke-width="0.6400000000000001" />
<line x1="506.50" y1="72.00" x2="516.50" y2="72.00" stroke="#f07070" stroke-width="0.6400000000000001" />
<circle cx="510.20" cy="50.70" r="1.25" fill="#f50a0a"/>
<circle cx="512.90" cy="50.70" r="1.25" fill="#f50a0a"/>
<circle cx="512.90" cy="53.90" r="1.25" fill="#f50a0a"/>
<circle cx="502.10" cy="61.40" r="1.25" fill="#f50a0a"/>
<circle cx="521.00" cy="61.20" r="1.25" fill="#f50a0a"/>
<circle cx="504.40" cy="62.90" r="1.25" fill="#f50a0a"/>
<circle cx="506.90" cy="62.90" r="1.25" fill="#f50a0a"/>
<circle cx="509.40" cy="62.90" r="1.25" fill="#f50a0a"/>
<circle cx="511.90" cy="62.90" r="1.25" fill="#f50a0a"/>
<circle cx="514.30" cy="62.90" r="1.25" fill="#f50a0a"/>
<circle cx="516.80" cy="62.90" r="1.25" fill="#f50a0a"/>
<circle cx="519.30" cy="62.90" r="1.25" fill="#f50a0a"/>
<circle cx="504.40" cy="64.90" r="1.25" fill="#f50a0a"/>
<circle cx="506.90" cy="64.90" r="1.25" fill="#f50a0a"/>
<circle cx="509.40" cy="64.90" r="1.25" fill="#f50a0a"/>
<circle cx="511.90" cy="64.90" r="1.25" fill="#f50a0a"/>
<circle cx="514.30" cy="64.90" r="1.25" fill="#f50a0a"/>
<circle cx="516.80" cy="64.90" r="1.25" fill="#f50a0a"/>
<circle cx="519.30" cy="64.90" r="1.25" fill="#f50a0a"/>
<circle cx="504.40" cy="66.90" r="1.25" fill="#f50a0a"/>
<circle cx="506.90" cy="66.90" r="1.25" fill="#f50a0a"/>
<circle cx="509.40" cy="66.90" r="1.25" fill="#f50a0a"/>
<circle cx="511.90" cy="66.90" r="1.25" fill="#f50a0a"/>
<circle cx="514.30" cy="66.90" r="1.25" fill="#f50a0a"/>
<circle cx="516.80" cy="66.90" r="1.25" fill="#f50a0a"/>
<circle cx="519.30" cy="66.90" r="1.25" fill="#f50a0a"/>
<circle cx="502.00" cy="64.90" r="1.25" fill="#f50a0a"/>
<circle cx="521.00" cy="64.90" r="1.25" fill="#f50a0a"/>
<circle cx="507.40" cy="68.40" r="1.25" fill="#f50a0a"/>
<circle cx="516.80" cy="68.40" r="1.25" fill="#f50a0a"/>
<circle cx="507.40" cy="70.70" r="1.25" fill="#f50a0a"/>
<circle cx="507.40" cy="73.70" r="1.25" fill="#f50a0a"/>
<circle cx="512.40" cy="73.70" r="1.25" fill="#f50a0a"/>
<circle cx="515.30" cy="73.70" r="1.25" fill="#f50a0a"/>
<circle cx="510.20" cy="83.40" r="1.25" fill="#f50a0a"/>
<text x="5.40" y="136.00" font-family="'Liberation Serif', serif" font-weight="normal" font-size="6.4" fill="#000" textLength="4.50" lengthAdjust="spacingAndGlyphs" style="stroke-width:0px">A</text>
<text x="47.60" y="136.70" font-family="'Liberation Serif', serif" font-weight="bold" font-size="5.6" fill="#000" textLength="19.90" lengthAdjust="spacingAndGlyphs">miR-193</text>
<line x1="22.60" y1="151.70" x2="22.60" y2="224.70" stroke="#1a1a1a" stroke-width="1.0" />
<line x1="20.10" y1="224.70" x2="22.60" y2="224.70" stroke="#1a1a1a" stroke-width="1.0" />
<line x1="20.10" y1="210.10" x2="22.60" y2="210.10" stroke="#1a1a1a" stroke-width="1.0" />
<line x1="20.10" y1="195.50" x2="22.60" y2="195.50" stroke="#1a1a1a" stroke-width="1.0" />
<line x1="20.10" y1="180.90" x2="22.60" y2="180.90" stroke="#1a1a1a" stroke-width="1.0" />
<line x1="20.10" y1="166.30" x2="22.60" y2="166.30" stroke="#1a1a1a" stroke-width="1.0" />
<line x1="20.10" y1="151.70" x2="22.60" y2="151.70" stroke="#1a1a1a" stroke-width="1.0" />
<line x1="22.60" y1="224.70" x2="92.30" y2="224.70" stroke="#1a1a1a" stroke-width="1.0" />
<line x1="22.60" y1="224.70" x2="22.60" y2="227.20" stroke="#1a1a1a" stroke-width="1.0" />
<line x1="36.54" y1="224.70" x2="36.54" y2="227.20" stroke="#1a1a1a" stroke-width="1.0" />
<line x1="50.48" y1="224.70" x2="50.48" y2="227.20" stroke="#1a1a1a" stroke-width="1.0" />
<line x1="64.42" y1="224.70" x2="64.42" y2="227.20" stroke="#1a1a1a" stroke-width="1.0" />
<line x1="78.36" y1="224.70" x2="78.36" y2="227.20" stroke="#1a1a1a" stroke-width="1.0" />
<line x1="92.30" y1="224.70" x2="92.30" y2="227.20" stroke="#1a1a1a" stroke-width="1.0" />
<text x="11.80" y="226.60" font-family="'Liberation Sans', sans-serif" font-weight="bold" font-size="5.2" fill="#000" textLength="7.60" lengthAdjust="spacingAndGlyphs">0.0</text>
<text x="18.80" y="233.90" font-family="'Liberation Sans', sans-serif" font-weight="bold" font-size="5.2" fill="#000" textLength="7.60" lengthAdjust="spacingAndGlyphs">0.0</text>
<text x="11.80" y="212.00" font-family="'Liberation Sans', sans-serif" font-weight="bold" font-size="5.2" fill="#000" textLength="7.60" lengthAdjust="spacingAndGlyphs">0.2</text>
<text x="32.74" y="233.90" font-family="'Liberation Sans', sans-serif" font-weight="bold" font-size="5.2" fill="#000" textLength="7.60" lengthAdjust="spacingAndGlyphs">0.2</text>
<text x="11.80" y="197.40" font-family="'Liberation Sans', sans-serif" font-weight="bold" font-size="5.2" fill="#000" textLength="7.60" lengthAdjust="spacingAndGlyphs">0.4</text>
<text x="46.68" y="233.90" font-family="'Liberation Sans', sans-serif" font-weight="bold" font-size="5.2" fill="#000" textLength="7.60" lengthAdjust="spacingAndGlyphs">0.4</text>
<text x="11.80" y="182.80" font-family="'Liberation Sans', sans-serif" font-weight="bold" font-size="5.2" fill="#000" textLength="7.60" lengthAdjust="spacingAndGlyphs">0.6</text>
<text x="60.62" y="233.90" font-family="'Liberation Sans', sans-serif" font-weight="bold" font-size="5.2" fill="#000" textLength="7.60" lengthAdjust="spacingAndGlyphs">0.6</text>
<text x="11.80" y="168.20" font-family="'Liberation Sans', sans-serif" font-weight="bold" font-size="5.2" fill="#000" textLength="7.60" lengthAdjust="spacingAndGlyphs">0.8</text>
<text x="74.56" y="233.90" font-family="'Liberation Sans', sans-serif" font-weight="bold" font-size="5.2" fill="#000" textLength="7.60" lengthAdjust="spacingAndGlyphs">0.8</text>
<text x="11.80" y="153.60" font-family="'Liberation Sans', sans-serif" font-weight="bold" font-size="5.2" fill="#000" textLength="7.60" lengthAdjust="spacingAndGlyphs">1.0</text>
<text x="88.50" y="233.90" font-family="'Liberation Sans', sans-serif" font-weight="bold" font-size="5.2" fill="#000" textLength="7.60" lengthAdjust="spacingAndGlyphs">1.0</text>
<text x="42.90" y="242.30" font-family="'Liberation Serif', serif" font-weight="bold" font-size="5.6" fill="#000" textLength="30.00" lengthAdjust="spacingAndGlyphs">1 - Specificity</text>
<text transform="translate(9.30,200.40) rotate(-90)" x="0" y="0" font-family="'Liberation Sans', sans-serif" font-weight="bold" font-size="5" fill="#000" textLength="24.10" lengthAdjust="spacingAndGlyphs">Sensitivity</text>
<line x1="22.60" y1="224.70" x2="92.30" y2="151.70" stroke="#2a2aa0" stroke-width="0.95" stroke-dasharray="2.2 1.4"/>
<polyline points="22.60,224.70 22.60,185.50 25.30,185.50 25.30,179.30 28.30,179.30 28.30,176.30 40.30,176.30 40.30,161.30 42.50,161.30 42.50,159.30 48.70,159.30 48.70,155.00 60.50,155.00 60.50,151.70 92.30,151.70" fill="none" stroke="#f02424" stroke-width="1.0" stroke-linejoin="miter" />
<text x="50.00" y="206.10" font-family="'Liberation Serif', serif" font-weight="normal" font-size="5.8" fill="#000" textLength="51.60" lengthAdjust="spacingAndGlyphs" style="stroke-width:0.3px">AUC=0.8806±0.04470</text>
<text x="63.40" y="212.30" font-family="'Liberation Serif', serif" font-weight="normal" font-size="5.8" fill="#000" textLength="24.20" lengthAdjust="spacingAndGlyphs" style="stroke-width:0.3px">P=&lt;0.0001</text>
<text x="47.90" y="218.50" font-family="'Liberation Serif', serif" font-weight="normal" font-size="5.8" fill="#000" textLength="55.30" lengthAdjust="spacingAndGlyphs" style="stroke-width:0.3px">95%CI=0.8030 - 0.9782</text>
<text x="114.50" y="136.80" font-family="'Liberation Serif', serif" font-weight="normal" font-size="6.4" fill="#000" textLength="4.40" lengthAdjust="spacingAndGlyphs" style="stroke-width:0px">B</text>
<text x="156.60" y="139.40" font-family="'Liberation Serif', serif" font-weight="bold" font-size="5.6" fill="#000" textLength="15.90" lengthAdjust="spacingAndGlyphs">miR-21</text>
<line x1="131.20" y1="156.90" x2="131.20" y2="227.90" stroke="#1a1a1a" stroke-width="1.0" />
<line x1="128.70" y1="227.90" x2="131.20" y2="227.90" stroke="#1a1a1a" stroke-width="1.0" />
<line x1="128.70" y1="213.70" x2="131.20" y2="213.70" stroke="#1a1a1a" stroke-width="1.0" />
<line x1="128.70" y1="199.50" x2="131.20" y2="199.50" stroke="#1a1a1a" stroke-width="1.0" />
<line x1="128.70" y1="185.30" x2="131.20" y2="185.30" stroke="#1a1a1a" stroke-width="1.0" />
<line x1="128.70" y1="171.10" x2="131.20" y2="171.10" stroke="#1a1a1a" stroke-width="1.0" />
<line x1="128.70" y1="156.90" x2="131.20" y2="156.90" stroke="#1a1a1a" stroke-width="1.0" />
<line x1="131.20" y1="227.90" x2="197.90" y2="227.90" stroke="#1a1a1a" stroke-width="1.0" />
<line x1="131.20" y1="227.90" x2="131.20" y2="230.40" stroke="#1a1a1a" stroke-width="1.0" />
<line x1="144.54" y1="227.90" x2="144.54" y2="230.40" stroke="#1a1a1a" stroke-width="1.0" />
<line x1="157.88" y1="227.90" x2="157.88" y2="230.40" stroke="#1a1a1a" stroke-width="1.0" />
<line x1="171.22" y1="227.90" x2="171.22" y2="230.40" stroke="#1a1a1a" stroke-width="1.0" />
<line x1="184.56" y1="227.90" x2="184.56" y2="230.40" stroke="#1a1a1a" stroke-width="1.0" />
<line x1="197.90" y1="227.90" x2="197.90" y2="230.40" stroke="#1a1a1a" stroke-width="1.0" />
<text x="120.40" y="229.80" font-family="'Liberation Serif', serif" font-weight="normal" font-size="5.4" fill="#000" textLength="7.60" lengthAdjust="spacingAndGlyphs">0.0</text>
<text x="127.40" y="236.50" font-family="'Liberation Serif', serif" font-weight="normal" font-size="5.4" fill="#000" textLength="7.60" lengthAdjust="spacingAndGlyphs">0.0</text>
<text x="120.40" y="215.60" font-family="'Liberation Serif', serif" font-weight="normal" font-size="5.4" fill="#000" textLength="7.60" lengthAdjust="spacingAndGlyphs">0.2</text>
<text x="140.74" y="236.50" font-family="'Liberation Serif', serif" font-weight="normal" font-size="5.4" fill="#000" textLength="7.60" lengthAdjust="spacingAndGlyphs">0.2</text>
<text x="120.40" y="201.40" font-family="'Liberation Serif', serif" font-weight="normal" font-size="5.4" fill="#000" textLength="7.60" lengthAdjust="spacingAndGlyphs">0.4</text>
<text x="154.08" y="236.50" font-family="'Liberation Serif', serif" font-weight="normal" font-size="5.4" fill="#000" textLength="7.60" lengthAdjust="spacingAndGlyphs">0.4</text>
<text x="120.40" y="187.20" font-family="'Liberation Serif', serif" font-weight="normal" font-size="5.4" fill="#000" textLength="7.60" lengthAdjust="spacingAndGlyphs">0.6</text>
<text x="167.42" y="236.50" font-family="'Liberation Serif', serif" font-weight="normal" font-size="5.4" fill="#000" textLength="7.60" lengthAdjust="spacingAndGlyphs">0.6</text>
<text x="120.40" y="173.00" font-family="'Liberation Serif', serif" font-weight="normal" font-size="5.4" fill="#000" textLength="7.60" lengthAdjust="spacingAndGlyphs">0.8</text>
<text x="180.76" y="236.50" font-family="'Liberation Serif', serif" font-weight="normal" font-size="5.4" fill="#000" textLength="7.60" lengthAdjust="spacingAndGlyphs">0.8</text>
<text x="120.40" y="158.80" font-family="'Liberation Serif', serif" font-weight="normal" font-size="5.4" fill="#000" textLength="7.60" lengthAdjust="spacingAndGlyphs">1.0</text>
<text x="194.10" y="236.50" font-family="'Liberation Serif', serif" font-weight="normal" font-size="5.4" fill="#000" textLength="7.60" lengthAdjust="spacingAndGlyphs">1.0</text>
<text x="150.50" y="243.80" font-family="'Liberation Serif', serif" font-weight="normal" font-size="5.8" fill="#000" textLength="29.50" lengthAdjust="spacingAndGlyphs">1 - Specificity</text>
<text transform="translate(118.40,203.70) rotate(-90)" x="0" y="0" font-family="'Liberation Serif', serif" font-weight="normal" font-size="5.2" fill="#000" textLength="24.80" lengthAdjust="spacingAndGlyphs">Sensitivity</text>
<line x1="131.20" y1="227.90" x2="197.90" y2="156.90" stroke="#4a2a98" stroke-width="0.95" stroke-dasharray="2.2 1.4"/>
<polyline points="131.20,227.90 131.20,183.90 134.10,183.90 134.10,180.40 137.60,180.40 142.30,174.40 145.80,174.40 145.80,168.50 153.40,168.50 153.40,165.30 156.30,165.30 156.30,162.10 161.40,162.10 165.30,159.40 173.80,159.40 173.80,156.90 197.90,156.90" fill="none" stroke="#f02424" stroke-width="1.0" stroke-linejoin="miter" />
<text x="161.00" y="208.90" font-family="'Liberation Serif', serif" font-weight="normal" font-size="5.6" fill="#000" textLength="48.90" lengthAdjust="spacingAndGlyphs" style="stroke-width:0.3px">AUC=0.8950±0.04411</text>
<text x="174.00" y="215.10" font-family="'Liberation Serif', serif" font-weight="normal" font-size="5.6" fill="#000" textLength="23.40" lengthAdjust="spacingAndGlyphs" style="stroke-width:0.3px">P=&lt;0.0001</text>
<text x="160.30" y="220.80" font-family="'Liberation Serif', serif" font-weight="normal" font-size="5.6" fill="#000" textLength="51.30" lengthAdjust="spacingAndGlyphs" style="stroke-width:0.3px">95%CI=0.5885- 0.9814</text>
<text x="221.00" y="136.40" font-family="'Liberation Serif', serif" font-weight="normal" font-size="6.4" fill="#000" textLength="4.40" lengthAdjust="spacingAndGlyphs" style="stroke-width:0px">C</text>
<text x="267.80" y="137.30" font-family="'Liberation Serif', serif" font-weight="bold" font-size="5.6" fill="#000" textLength="16.00" lengthAdjust="spacingAndGlyphs">miR-23</text>
<line x1="241.70" y1="154.80" x2="241.70" y2="224.20" stroke="#1a1a1a" stroke-width="1.0" />
<line x1="239.20" y1="224.20" x2="241.70" y2="224.20" stroke="#1a1a1a" stroke-width="1.0" />
<line x1="239.20" y1="210.32" x2="241.70" y2="210.32" stroke="#1a1a1a" stroke-width="1.0" />
<line x1="239.20" y1="196.44" x2="241.70" y2="196.44" stroke="#1a1a1a" stroke-width="1.0" />
<line x1="239.20" y1="182.56" x2="241.70" y2="182.56" stroke="#1a1a1a" stroke-width="1.0" />
<line x1="239.20" y1="168.68" x2="241.70" y2="168.68" stroke="#1a1a1a" stroke-width="1.0" />
<line x1="239.20" y1="154.80" x2="241.70" y2="154.80" stroke="#1a1a1a" stroke-width="1.0" />
<line x1="241.70" y1="224.20" x2="310.60" y2="224.20" stroke="#1a1a1a" stroke-width="1.0" />
<line x1="241.70" y1="224.20" x2="241.70" y2="226.70" stroke="#1a1a1a" stroke-width="1.0" />
<line x1="255.48" y1="224.20" x2="255.48" y2="226.70" stroke="#1a1a1a" stroke-width="1.0" />
<line x1="269.26" y1="224.20" x2="269.26" y2="226.70" stroke="#1a1a1a" stroke-width="1.0" />
<line x1="283.04" y1="224.20" x2="283.04" y2="226.70" stroke="#1a1a1a" stroke-width="1.0" />
<line x1="296.82" y1="224.20" x2="296.82" y2="226.70" stroke="#1a1a1a" stroke-width="1.0" />
<line x1="310.60" y1="224.20" x2="310.60" y2="226.70" stroke="#1a1a1a" stroke-width="1.0" />
<text x="230.90" y="226.10" font-family="'Liberation Sans', sans-serif" font-weight="bold" font-size="5.2" fill="#000" textLength="7.60" lengthAdjust="spacingAndGlyphs">0.0</text>
<text x="237.90" y="233.00" font-family="'Liberation Sans', sans-serif" font-weight="bold" font-size="5.2" fill="#000" textLength="7.60" lengthAdjust="spacingAndGlyphs">0.0</text>
<text x="230.90" y="212.22" font-family="'Liberation Sans', sans-serif" font-weight="bold" font-size="5.2" fill="#000" textLength="7.60" lengthAdjust="spacingAndGlyphs">0.2</text>
<text x="251.68" y="233.00" font-family="'Liberation Sans', sans-serif" font-weight="bold" font-size="5.2" fill="#000" textLength="7.60" lengthAdjust="spacingAndGlyphs">0.2</text>
<text x="230.90" y="198.34" font-family="'Liberation Sans', sans-serif" font-weight="bold" font-size="5.2" fill="#000" textLength="7.60" lengthAdjust="spacingAndGlyphs">0.4</text>
<text x="265.46" y="233.00" font-family="'Liberation Sans', sans-serif" font-weight="bold" font-size="5.2" fill="#000" textLength="7.60" lengthAdjust="spacingAndGlyphs">0.4</text>
<text x="230.90" y="184.46" font-family="'Liberation Sans', sans-serif" font-weight="bold" font-size="5.2" fill="#000" textLength="7.60" lengthAdjust="spacingAndGlyphs">0.6</text>
<text x="279.24" y="233.00" font-family="'Liberation Sans', sans-serif" font-weight="bold" font-size="5.2" fill="#000" textLength="7.60" lengthAdjust="spacingAndGlyphs">0.6</text>
<text x="230.90" y="170.58" font-family="'Liberation Sans', sans-serif" font-weight="bold" font-size="5.2" fill="#000" textLength="7.60" lengthAdjust="spacingAndGlyphs">0.8</text>
<text x="293.02" y="233.00" font-family="'Liberation Sans', sans-serif" font-weight="bold" font-size="5.2" fill="#000" textLength="7.60" lengthAdjust="spacingAndGlyphs">0.8</text>
<text x="230.90" y="156.70" font-family="'Liberation Sans', sans-serif" font-weight="bold" font-size="5.2" fill="#000" textLength="7.60" lengthAdjust="spacingAndGlyphs">1.0</text>
<text x="306.80" y="233.00" font-family="'Liberation Sans', sans-serif" font-weight="bold" font-size="5.2" fill="#000" textLength="7.60" lengthAdjust="spacingAndGlyphs">1.0</text>
<text x="258.00" y="240.60" font-family="'Liberation Sans', sans-serif" font-weight="bold" font-size="6.2" fill="#000" textLength="36.10" lengthAdjust="spacingAndGlyphs">1 - Specificity</text>
<text transform="translate(226.90,202.10) rotate(-90)" x="0" y="0" font-family="'Liberation Sans', sans-serif" font-weight="bold" font-size="5" fill="#000" textLength="27.80" lengthAdjust="spacingAndGlyphs">Sensitivity</text>
<line x1="241.70" y1="224.20" x2="310.60" y2="154.80" stroke="#2a2aa0" stroke-width="0.95" stroke-dasharray="2.2 1.4"/>
<polyline points="241.70,224.20 241.70,203.60 252.80,203.60 252.80,198.40 255.40,198.40 255.40,195.30 258.80,195.30 258.80,180.50 290.30,180.50 290.30,172.20 296.30,172.20 296.30,160.30 298.20,160.30 298.20,157.90 300.80,157.90 300.80,156.30 302.70,156.30 302.70,154.80 310.60,154.80" fill="none" stroke="#f02424" stroke-width="1.0" stroke-linejoin="miter" />
<text x="268.90" y="205.50" font-family="'Liberation Serif', serif" font-weight="bold" font-size="5.4" fill="#000" textLength="49.90" lengthAdjust="spacingAndGlyphs" style="stroke-width:0.25px">AUC=0.6537±0.08262</text>
<text x="283.80" y="211.20" font-family="'Liberation Serif', serif" font-weight="bold" font-size="5.4" fill="#000" textLength="19.70" lengthAdjust="spacingAndGlyphs" style="stroke-width:0.25px">P=0.1124</text>
<text x="267.20" y="216.90" font-family="'Liberation Serif', serif" font-weight="bold" font-size="5.4" fill="#000" textLength="53.80" lengthAdjust="spacingAndGlyphs" style="stroke-width:0.25px">95%CI=0.4717 - 0.7956</text>
<text x="333.40" y="136.80" font-family="'Liberation Serif', serif" font-weight="normal" font-size="6.4" fill="#000" textLength="4.60" lengthAdjust="spacingAndGlyphs" style="stroke-width:0px">D</text>
<text x="378.40" y="137.20" font-family="'Liberation Serif', serif" font-weight="bold" font-size="5.6" fill="#000" textLength="18.30" lengthAdjust="spacingAndGlyphs">miR-361</text>
<line x1="354.50" y1="149.60" x2="354.50" y2="226.40" stroke="#1a1a1a" stroke-width="1.0" />
<line x1="352.00" y1="226.40" x2="354.50" y2="226.40" stroke="#1a1a1a" stroke-width="1.0" />
<line x1="352.00" y1="211.04" x2="354.50" y2="211.04" stroke="#1a1a1a" stroke-width="1.0" />
<line x1="352.00" y1="195.68" x2="354.50" y2="195.68" stroke="#1a1a1a" stroke-width="1.0" />
<line x1="352.00" y1="180.32" x2="354.50" y2="180.32" stroke="#1a1a1a" stroke-width="1.0" />
<line x1="352.00" y1="164.96" x2="354.50" y2="164.96" stroke="#1a1a1a" stroke-width="1.0" />
<line x1="352.00" y1="149.60" x2="354.50" y2="149.60" stroke="#1a1a1a" stroke-width="1.0" />
<line x1="354.50" y1="226.40" x2="419.70" y2="226.40" stroke="#1a1a1a" stroke-width="1.0" />
<line x1="354.50" y1="226.40" x2="354.50" y2="228.90" stroke="#1a1a1a" stroke-width="1.0" />
<line x1="367.54" y1="226.40" x2="367.54" y2="228.90" stroke="#1a1a1a" stroke-width="1.0" />
<line x1="380.58" y1="226.40" x2="380.58" y2="228.90" stroke="#1a1a1a" stroke-width="1.0" />
<line x1="393.62" y1="226.40" x2="393.62" y2="228.90" stroke="#1a1a1a" stroke-width="1.0" />
<line x1="406.66" y1="226.40" x2="406.66" y2="228.90" stroke="#1a1a1a" stroke-width="1.0" />
<line x1="419.70" y1="226.40" x2="419.70" y2="228.90" stroke="#1a1a1a" stroke-width="1.0" />
<text x="343.70" y="228.30" font-family="'Liberation Serif', serif" font-weight="bold" font-size="5.4" fill="#000" textLength="7.60" lengthAdjust="spacingAndGlyphs">0.0</text>
<text x="350.70" y="235.70" font-family="'Liberation Serif', serif" font-weight="bold" font-size="5.4" fill="#000" textLength="7.60" lengthAdjust="spacingAndGlyphs">0.0</text>
<text x="343.70" y="212.94" font-family="'Liberation Serif', serif" font-weight="bold" font-size="5.4" fill="#000" textLength="7.60" lengthAdjust="spacingAndGlyphs">0.2</text>
<text x="363.74" y="235.70" font-family="'Liberation Serif', serif" font-weight="bold" font-size="5.4" fill="#000" textLength="7.60" lengthAdjust="spacingAndGlyphs">0.2</text>
<text x="343.70" y="197.58" font-family="'Liberation Serif', serif" font-weight="bold" font-size="5.4" fill="#000" textLength="7.60" lengthAdjust="spacingAndGlyphs">0.4</text>
<text x="376.78" y="235.70" font-family="'Liberation Serif', serif" font-weight="bold" font-size="5.4" fill="#000" textLength="7.60" lengthAdjust="spacingAndGlyphs">0.4</text>
<text x="343.70" y="182.22" font-family="'Liberation Serif', serif" font-weight="bold" font-size="5.4" fill="#000" textLength="7.60" lengthAdjust="spacingAndGlyphs">0.6</text>
<text x="389.82" y="235.70" font-family="'Liberation Serif', serif" font-weight="bold" font-size="5.4" fill="#000" textLength="7.60" lengthAdjust="spacingAndGlyphs">0.6</text>
<text x="343.70" y="166.86" font-family="'Liberation Serif', serif" font-weight="bold" font-size="5.4" fill="#000" textLength="7.60" lengthAdjust="spacingAndGlyphs">0.8</text>
<text x="402.86" y="235.70" font-family="'Liberation Serif', serif" font-weight="bold" font-size="5.4" fill="#000" textLength="7.60" lengthAdjust="spacingAndGlyphs">0.8</text>
<text x="343.70" y="151.50" font-family="'Liberation Serif', serif" font-weight="bold" font-size="5.4" fill="#000" textLength="7.60" lengthAdjust="spacingAndGlyphs">1.0</text>
<text x="415.90" y="235.70" font-family="'Liberation Serif', serif" font-weight="bold" font-size="5.4" fill="#000" textLength="7.60" lengthAdjust="spacingAndGlyphs">1.0</text>
<text x="374.00" y="243.80" font-family="'Liberation Serif', serif" font-weight="bold" font-size="5.6" fill="#000" textLength="27.40" lengthAdjust="spacingAndGlyphs">1 - Specificity</text>
<text transform="translate(341.90,199.70) rotate(-90)" x="0" y="0" font-family="'Liberation Serif', serif" font-weight="bold" font-size="5" fill="#000" textLength="25.40" lengthAdjust="spacingAndGlyphs">Sensitivity</text>
<line x1="354.50" y1="226.40" x2="419.70" y2="149.60" stroke="#2a2aa0" stroke-width="0.95" stroke-dasharray="2.2 1.4"/>
<polyline points="354.50,226.40 354.50,223.30 368.60,223.30 368.60,213.30 371.70,213.30 371.70,207.10 374.00,207.10 374.00,204.80 375.70,204.80 375.70,202.40 377.60,202.40 377.60,199.50 380.00,199.50 380.00,171.40 382.40,171.40 382.40,158.50 385.20,158.50 385.20,152.60 398.60,152.60 398.60,149.60 419.70,149.60" fill="none" stroke="#f02424" stroke-width="1.0" stroke-linejoin="miter" />
<text x="382.90" y="206.50" font-family="'Liberation Serif', serif" font-weight="bold" font-size="5.5" fill="#000" textLength="47.10" lengthAdjust="spacingAndGlyphs" style="stroke-width:0.2px">AUC=0.6510±0.08712</text>
<text x="396.00" y="212.70" font-family="'Liberation Serif', serif" font-weight="bold" font-size="5.5" fill="#000" textLength="20.10" lengthAdjust="spacingAndGlyphs" style="stroke-width:0.2px">P=0.0728</text>
<text x="381.20" y="218.90" font-family="'Liberation Serif', serif" font-weight="bold" font-size="5.5" fill="#000" textLength="50.00" lengthAdjust="spacingAndGlyphs" style="stroke-width:0.2px">95%CI=0.4801 - 0.8220</text>
<text x="441.40" y="136.00" font-family="'Liberation Sans', sans-serif" font-weight="normal" font-size="5.8" fill="#000" textLength="3.50" lengthAdjust="spacingAndGlyphs" style="stroke-width:0px">E</text>
<text x="485.90" y="137.80" font-family="'Liberation Serif', serif" font-weight="bold" font-size="5.6" fill="#000" textLength="18.80" lengthAdjust="spacingAndGlyphs">miR-130</text>
<line x1="461.80" y1="147.60" x2="461.80" y2="226.40" stroke="#1a1a1a" stroke-width="1.0" />
<line x1="459.30" y1="226.40" x2="461.80" y2="226.40" stroke="#1a1a1a" stroke-width="1.0" />
<line x1="459.30" y1="210.64" x2="461.80" y2="210.64" stroke="#1a1a1a" stroke-width="1.0" />
<line x1="459.30" y1="194.88" x2="461.80" y2="194.88" stroke="#1a1a1a" stroke-width="1.0" />
<line x1="459.30" y1="179.12" x2="461.80" y2="179.12" stroke="#1a1a1a" stroke-width="1.0" />
<line x1="459.30" y1="163.36" x2="461.80" y2="163.36" stroke="#1a1a1a" stroke-width="1.0" />
<line x1="459.30" y1="147.60" x2="461.80" y2="147.60" stroke="#1a1a1a" stroke-width="1.0" />
<line x1="461.80" y1="226.40" x2="529.50" y2="226.40" stroke="#1a1a1a" stroke-width="1.0" />
<line x1="461.80" y1="226.40" x2="461.80" y2="228.90" stroke="#1a1a1a" stroke-width="1.0" />
<line x1="475.34" y1="226.40" x2="475.34" y2="228.90" stroke="#1a1a1a" stroke-width="1.0" />
<line x1="488.88" y1="226.40" x2="488.88" y2="228.90" stroke="#1a1a1a" stroke-width="1.0" />
<line x1="502.42" y1="226.40" x2="502.42" y2="228.90" stroke="#1a1a1a" stroke-width="1.0" />
<line x1="515.96" y1="226.40" x2="515.96" y2="228.90" stroke="#1a1a1a" stroke-width="1.0" />
<line x1="529.50" y1="226.40" x2="529.50" y2="228.90" stroke="#1a1a1a" stroke-width="1.0" />
<text x="451.00" y="228.30" font-family="'Liberation Sans', sans-serif" font-weight="bold" font-size="5.4" fill="#000" textLength="7.60" lengthAdjust="spacingAndGlyphs">0.0</text>
<text x="458.00" y="236.40" font-family="'Liberation Sans', sans-serif" font-weight="bold" font-size="5.4" fill="#000" textLength="7.60" lengthAdjust="spacingAndGlyphs">0.0</text>
<text x="451.00" y="212.54" font-family="'Liberation Sans', sans-serif" font-weight="bold" font-size="5.4" fill="#000" textLength="7.60" lengthAdjust="spacingAndGlyphs">0.2</text>
<text x="471.54" y="236.40" font-family="'Liberation Sans', sans-serif" font-weight="bold" font-size="5.4" fill="#000" textLength="7.60" lengthAdjust="spacingAndGlyphs">0.2</text>
<text x="451.00" y="196.78" font-family="'Liberation Sans', sans-serif" font-weight="bold" font-size="5.4" fill="#000" textLength="7.60" lengthAdjust="spacingAndGlyphs">0.4</text>
<text x="485.08" y="236.40" font-family="'Liberation Sans', sans-serif" font-weight="bold" font-size="5.4" fill="#000" textLength="7.60" lengthAdjust="spacingAndGlyphs">0.4</text>
<text x="451.00" y="181.02" font-family="'Liberation Sans', sans-serif" font-weight="bold" font-size="5.4" fill="#000" textLength="7.60" lengthAdjust="spacingAndGlyphs">0.6</text>
<text x="498.62" y="236.40" font-family="'Liberation Sans', sans-serif" font-weight="bold" font-size="5.4" fill="#000" textLength="7.60" lengthAdjust="spacingAndGlyphs">0.6</text>
<text x="451.00" y="165.26" font-family="'Liberation Sans', sans-serif" font-weight="bold" font-size="5.4" fill="#000" textLength="7.60" lengthAdjust="spacingAndGlyphs">0.8</text>
<text x="512.16" y="236.40" font-family="'Liberation Sans', sans-serif" font-weight="bold" font-size="5.4" fill="#000" textLength="7.60" lengthAdjust="spacingAndGlyphs">0.8</text>
<text x="451.00" y="149.50" font-family="'Liberation Sans', sans-serif" font-weight="bold" font-size="5.4" fill="#000" textLength="7.60" lengthAdjust="spacingAndGlyphs">1.0</text>
<text x="525.70" y="236.40" font-family="'Liberation Sans', sans-serif" font-weight="bold" font-size="5.4" fill="#000" textLength="7.60" lengthAdjust="spacingAndGlyphs">1.0</text>
<text x="485.10" y="244.20" font-family="'Liberation Serif', serif" font-weight="bold" font-size="5.4" fill="#000" textLength="24.80" lengthAdjust="spacingAndGlyphs">1 - Specificity</text>
<text transform="translate(448.60,199.70) rotate(-90)" x="0" y="0" font-family="'Liberation Serif', serif" font-weight="bold" font-size="4.8" fill="#000" textLength="26.90" lengthAdjust="spacingAndGlyphs">Sensitivity</text>
<line x1="461.80" y1="226.40" x2="529.50" y2="147.60" stroke="#6a6af0" stroke-width="0.6" />
<path d="M461.8,226.4 L461.8,223.3 L463.7,220.5 L466.1,218.1 L467.8,213.8 L469,207.9 L470.1,198.3 L472.5,197.6 L474.9,194.8 L477.3,191.2 L478.5,184.6 L480.1,180.6 L484,175.9 L490.4,167.9 L493.6,165.1 L498.3,162.4 L506.3,160.8 L507.8,156.6 L511,152.6 L515.8,151 L520.5,151 L522.1,149 L526.1,148.3 L529.5,147.6" fill="none" stroke="#f02424" stroke-width="1.0" stroke-linejoin="round"/>
<text x="485.80" y="206.30" font-family="'Liberation Serif', serif" font-weight="bold" font-size="5.5" fill="#000" textLength="49.50" lengthAdjust="spacingAndGlyphs" style="stroke-width:0.2px">AUC=0.6936±0.05845</text>
<text x="499.60" y="212.40" font-family="'Liberation Serif', serif" font-weight="bold" font-size="5.5" fill="#000" textLength="20.40" lengthAdjust="spacingAndGlyphs" style="stroke-width:0.2px">p=0.0025</text>
<text x="484.30" y="218.90" font-family="'Liberation Serif', serif" font-weight="bold" font-size="5.5" fill="#000" textLength="51.90" lengthAdjust="spacingAndGlyphs" style="stroke-width:0.2px">95% CI=0.5794-0.8085</text>
<text x="545.00" y="9.90" font-family="'Liberation Serif', serif" font-weight="normal" font-size="6.8" fill="#000" textLength="4.00" lengthAdjust="spacingAndGlyphs" style="stroke-width:0px">F</text>
<line x1="569.60" y1="22.40" x2="569.60" y2="91.40" stroke="#1a1a1a" stroke-width="1.0" />
<line x1="567.20" y1="91.40" x2="569.60" y2="91.40" stroke="#1a1a1a" stroke-width="1.0" />
<line x1="567.20" y1="77.60" x2="569.60" y2="77.60" stroke="#1a1a1a" stroke-width="1.0" />
<line x1="567.20" y1="63.80" x2="569.60" y2="63.80" stroke="#1a1a1a" stroke-width="1.0" />
<line x1="567.20" y1="50.00" x2="569.60" y2="50.00" stroke="#1a1a1a" stroke-width="1.0" />
<line x1="567.20" y1="36.20" x2="569.60" y2="36.20" stroke="#1a1a1a" stroke-width="1.0" />
<line x1="567.20" y1="22.40" x2="569.60" y2="22.40" stroke="#1a1a1a" stroke-width="1.0" />
<line x1="569.60" y1="91.40" x2="634.80" y2="91.40" stroke="#1a1a1a" stroke-width="1.0" />
<line x1="569.60" y1="91.40" x2="569.60" y2="93.80" stroke="#1a1a1a" stroke-width="1.0" />
<line x1="582.64" y1="91.40" x2="582.64" y2="93.80" stroke="#1a1a1a" stroke-width="1.0" />
<line x1="595.68" y1="91.40" x2="595.68" y2="93.80" stroke="#1a1a1a" stroke-width="1.0" />
<line x1="608.72" y1="91.40" x2="608.72" y2="93.80" stroke="#1a1a1a" stroke-width="1.0" />
<line x1="621.76" y1="91.40" x2="621.76" y2="93.80" stroke="#1a1a1a" stroke-width="1.0" />
<line x1="634.80" y1="91.40" x2="634.80" y2="93.80" stroke="#1a1a1a" stroke-width="1.0" />
<text x="560.00" y="93.20" font-family="'Liberation Serif', serif" font-weight="bold" font-size="5.2" fill="#000" textLength="6.40" lengthAdjust="spacingAndGlyphs">0.0</text>
<text x="566.40" y="100.40" font-family="'Liberation Serif', serif" font-weight="bold" font-size="5.2" fill="#000" textLength="6.40" lengthAdjust="spacingAndGlyphs">0.0</text>
<text x="560.00" y="79.40" font-family="'Liberation Serif', serif" font-weight="bold" font-size="5.2" fill="#000" textLength="6.40" lengthAdjust="spacingAndGlyphs">0.2</text>
<text x="579.44" y="100.40" font-family="'Liberation Serif', serif" font-weight="bold" font-size="5.2" fill="#000" textLength="6.40" lengthAdjust="spacingAndGlyphs">0.2</text>
<text x="560.00" y="65.60" font-family="'Liberation Serif', serif" font-weight="bold" font-size="5.2" fill="#000" textLength="6.40" lengthAdjust="spacingAndGlyphs">0.4</text>
<text x="592.48" y="100.40" font-family="'Liberation Serif', serif" font-weight="bold" font-size="5.2" fill="#000" textLength="6.40" lengthAdjust="spacingAndGlyphs">0.4</text>
<text x="560.00" y="51.80" font-family="'Liberation Serif', serif" font-weight="bold" font-size="5.2" fill="#000" textLength="6.40" lengthAdjust="spacingAndGlyphs">0.6</text>
<text x="605.52" y="100.40" font-family="'Liberation Serif', serif" font-weight="bold" font-size="5.2" fill="#000" textLength="6.40" lengthAdjust="spacingAndGlyphs">0.6</text>
<text x="560.00" y="38.00" font-family="'Liberation Serif', serif" font-weight="bold" font-size="5.2" fill="#000" textLength="6.40" lengthAdjust="spacingAndGlyphs">0.8</text>
<text x="618.56" y="100.40" font-family="'Liberation Serif', serif" font-weight="bold" font-size="5.2" fill="#000" textLength="6.40" lengthAdjust="spacingAndGlyphs">0.8</text>
<text x="560.00" y="24.20" font-family="'Liberation Serif', serif" font-weight="bold" font-size="5.2" fill="#000" textLength="6.40" lengthAdjust="spacingAndGlyphs">1.0</text>
<text x="631.60" y="100.40" font-family="'Liberation Serif', serif" font-weight="bold" font-size="5.2" fill="#000" textLength="6.40" lengthAdjust="spacingAndGlyphs">1.0</text>
<text x="588.70" y="106.80" font-family="'Liberation Serif', serif" font-weight="bold" font-size="5.2" fill="#000" textLength="27.80" lengthAdjust="spacingAndGlyphs">1 - Specificity</text>
<text transform="translate(556.80,68.50) rotate(-90)" x="0" y="0" font-family="'Liberation Serif', serif" font-weight="normal" font-size="4.6" fill="#000" textLength="23.50" lengthAdjust="spacingAndGlyphs">Sensitivity</text>
<line x1="569.60" y1="91.40" x2="634.80" y2="22.40" stroke="#2020a8" stroke-width="1.1" stroke-dasharray="2 1.5"/>
<path d="M569.6,91.4 L571,87.5 L573.8,85.7 L575.5,79.5 L577.3,67 L580,65.7 L582.7,60.7 L584.5,56.3 L588,50.9 L592,45.5 L596.7,40.2 L602.3,36.3 L606.3,34.7 L611.8,33.9 L615.8,28.3 L619.8,25.6 L625.3,25.1 L628.5,23.6 L634.8,22.4" fill="none" stroke="#3a3ac8" stroke-width="0.9" stroke-linejoin="round"/>
<polyline points="569.90,91.40 569.90,65.70 572.50,65.70 572.50,55.80 574.80,55.80 574.80,49.00 577.40,49.00 577.40,45.00 580.10,45.00 580.10,37.00 585.30,37.00 585.30,34.70 588.00,31.50 591.20,28.30 591.20,25.00 593.60,24.30 593.60,22.40 599.00,22.40" fill="none" stroke="#e83838" stroke-width="0.9" stroke-linejoin="miter" />
<polyline points="569.90,91.40 569.90,59.70 572.50,59.70 572.50,48.30 574.80,48.30 574.80,42.50 577.40,42.50 577.40,39.40 591.20,39.40 591.20,28.30 594.40,28.30 594.40,25.60 599.10,25.60 599.10,22.40 634.80,22.40" fill="none" stroke="#2eb02e" stroke-width="0.9" stroke-linejoin="miter" />
<text x="585.60" y="79.60" font-family="'Liberation Serif', serif" font-weight="normal" font-size="5.4" fill="#000" textLength="58.70" lengthAdjust="spacingAndGlyphs" style="stroke-width:0.18px">Cumulative Sensitivity=84%</text>
<text x="587.10" y="85.40" font-family="'Liberation Serif', serif" font-weight="normal" font-size="5.4" fill="#000" textLength="54.80" lengthAdjust="spacingAndGlyphs" style="stroke-width:0.18px">Cumulative Specifity=68%</text>
<line x1="649.00" y1="70.40" x2="656.50" y2="70.40" stroke="#f0a0a0" stroke-width="1.6" />
<line x1="649.00" y1="79.40" x2="656.50" y2="79.40" stroke="#30c030" stroke-width="0.9" />
<line x1="649.00" y1="88.90" x2="656.50" y2="88.90" stroke="#6060d0" stroke-width="1.2" />
<text x="659.40" y="72.30" font-family="'Liberation Serif', serif" font-weight="normal" font-size="5.2" fill="#000" textLength="14.60" lengthAdjust="spacingAndGlyphs">miR-21</text>
<text x="659.40" y="81.30" font-family="'Liberation Serif', serif" font-weight="normal" font-size="5.2" fill="#000" textLength="16.40" lengthAdjust="spacingAndGlyphs">miR-193</text>
<text x="659.40" y="90.80" font-family="'Liberation Serif', serif" font-weight="normal" font-size="5.2" fill="#000" textLength="19.20" lengthAdjust="spacingAndGlyphs">miR-130a</text>
<text x="548.20" y="137.80" font-family="'Liberation Serif', serif" font-weight="normal" font-size="7.4" fill="#000" textLength="5.60" lengthAdjust="spacingAndGlyphs" style="stroke-width:0px">G</text>
<text x="596.20" y="133.60" font-family="'Liberation Serif', serif" font-weight="normal" font-size="4.8" fill="#000" textLength="10.40" lengthAdjust="spacingAndGlyphs" style="stroke-width:0.22px">r=0.3931</text>
<text x="596.20" y="138.80" font-family="'Liberation Serif', serif" font-weight="normal" font-size="4.8" fill="#000" textLength="43.30" lengthAdjust="spacingAndGlyphs" style="stroke-width:0.22px">95% CI=-0.01558-0.6869</text>
<text x="596.20" y="144.60" font-family="'Liberation Serif', serif" font-weight="normal" font-size="4.8" fill="#000" textLength="8.70" lengthAdjust="spacingAndGlyphs" style="stroke-width:0.22px">P=0.05</text>
<line x1="577.90" y1="146.50" x2="649.90" y2="146.50" stroke="#222" stroke-width="0.7" />
<line x1="577.90" y1="145.20" x2="577.90" y2="147.40" stroke="#222" stroke-width="0.7" />
<line x1="649.90" y1="145.20" x2="649.90" y2="147.40" stroke="#222" stroke-width="0.7" />
<text x="578.40" y="155.60" font-family="'Liberation Serif', serif" font-weight="normal" font-size="4.8" fill="#000" textLength="12.20" lengthAdjust="spacingAndGlyphs" style="stroke-width:0.22px">r=-0.3146</text>
<text x="578.40" y="160.80" font-family="'Liberation Serif', serif" font-weight="normal" font-size="4.8" fill="#000" textLength="44.00" lengthAdjust="spacingAndGlyphs" style="stroke-width:0.22px">95% CI=-0.6404-0.09617</text>
<text x="578.40" y="166.00" font-family="'Liberation Serif', serif" font-weight="normal" font-size="4.8" fill="#000" textLength="15.20" lengthAdjust="spacingAndGlyphs" style="stroke-width:0.22px">P=0.1279</text>
<line x1="577.90" y1="169.50" x2="616.80" y2="169.50" stroke="#222" stroke-width="0.7" />
<line x1="577.90" y1="167.90" x2="577.90" y2="170.10" stroke="#222" stroke-width="0.7" />
<line x1="616.80" y1="167.90" x2="616.80" y2="170.10" stroke="#222" stroke-width="0.7" />
<line x1="560.40" y1="167.20" x2="560.40" y2="227.30" stroke="#1a1a1a" stroke-width="0.9" />
<line x1="558.60" y1="167.20" x2="560.40" y2="167.20" stroke="#1a1a1a" stroke-width="0.9" />
<line x1="558.60" y1="177.20" x2="560.40" y2="177.20" stroke="#1a1a1a" stroke-width="0.9" />
<line x1="558.60" y1="187.20" x2="560.40" y2="187.20" stroke="#1a1a1a" stroke-width="0.9" />
<line x1="558.60" y1="197.30" x2="560.40" y2="197.30" stroke="#1a1a1a" stroke-width="0.9" />
<line x1="558.60" y1="207.40" x2="560.40" y2="207.40" stroke="#1a1a1a" stroke-width="0.9" />
<line x1="558.60" y1="217.40" x2="560.40" y2="217.40" stroke="#1a1a1a" stroke-width="0.9" />
<line x1="558.60" y1="227.30" x2="560.40" y2="227.30" stroke="#1a1a1a" stroke-width="0.9" />
<line x1="560.40" y1="227.30" x2="673.90" y2="227.30" stroke="#1a1a1a" stroke-width="0.9" />
<line x1="584.90" y1="227.30" x2="584.90" y2="229.10" stroke="#1a1a1a" stroke-width="0.9" />
<line x1="617.60" y1="227.30" x2="617.60" y2="229.10" stroke="#1a1a1a" stroke-width="0.9" />
<line x1="651.40" y1="227.30" x2="651.40" y2="229.10" stroke="#1a1a1a" stroke-width="0.9" />
<text x="554.64" y="168.90" font-family="'Liberation Serif', serif" font-weight="bold" font-size="4.9" fill="#000" textLength="3.96" lengthAdjust="spacingAndGlyphs" style="stroke-width:0.2px">15</text>
<text x="554.64" y="178.90" font-family="'Liberation Serif', serif" font-weight="bold" font-size="4.9" fill="#000" textLength="3.96" lengthAdjust="spacingAndGlyphs" style="stroke-width:0.2px">10</text>
<text x="556.62" y="188.90" font-family="'Liberation Serif', serif" font-weight="bold" font-size="4.9" fill="#000" textLength="1.98" lengthAdjust="spacingAndGlyphs" style="stroke-width:0.2px">5</text>
<text x="556.62" y="199.00" font-family="'Liberation Serif', serif" font-weight="bold" font-size="4.9" fill="#000" textLength="1.98" lengthAdjust="spacingAndGlyphs" style="stroke-width:0.2px">0</text>
<text x="555.08" y="209.10" font-family="'Liberation Serif', serif" font-weight="bold" font-size="4.9" fill="#000" textLength="3.52" lengthAdjust="spacingAndGlyphs" style="stroke-width:0.2px">-5</text>
<text x="553.10" y="219.10" font-family="'Liberation Serif', serif" font-weight="bold" font-size="4.9" fill="#000" textLength="5.50" lengthAdjust="spacingAndGlyphs" style="stroke-width:0.2px">-10</text>
<text x="553.10" y="229.00" font-family="'Liberation Serif', serif" font-weight="bold" font-size="4.9" fill="#000" textLength="5.50" lengthAdjust="spacingAndGlyphs" style="stroke-width:0.2px">-15</text>
<text x="579.50" y="234.80" font-family="'Liberation Serif', serif" font-weight="bold" font-size="4.2" fill="#000" textLength="10.80" lengthAdjust="spacingAndGlyphs" style="stroke-width:0.2px">miR-21</text>
<text x="611.20" y="234.80" font-family="'Liberation Serif', serif" font-weight="bold" font-size="4.2" fill="#000" textLength="12.80" lengthAdjust="spacingAndGlyphs" style="stroke-width:0.2px">miR-193</text>
<text x="644.00" y="234.80" font-family="'Liberation Serif', serif" font-weight="bold" font-size="4.2" fill="#000" textLength="14.80" lengthAdjust="spacingAndGlyphs" style="stroke-width:0.2px">miR-130a</text>
<text x="606.40" y="244.00" font-family="'Liberation Serif', serif" font-weight="bold" font-size="4.6" fill="#000" textLength="22.50" lengthAdjust="spacingAndGlyphs" style="stroke-width:0.15px">MicroRNAS</text>
<text transform="translate(549.60,206.50) rotate(-90)" x="0" y="0" font-family="'Liberation Serif', serif" font-weight="normal" font-size="4.5" fill="#000" textLength="18.70" lengthAdjust="spacingAndGlyphs" style="stroke-width:0.25px">Δct value</text>
<line x1="561.00" y1="197.30" x2="673.90" y2="197.30" stroke="#444" stroke-width="0.8" stroke-dasharray="0.9 1.3"/>
<line x1="578.70" y1="187.50" x2="590.70" y2="187.50" stroke="#1a1ac8" stroke-width="0.7" />
<line x1="584.70" y1="183.30" x2="584.70" y2="191.60" stroke="#1a1ac8" stroke-width="0.5599999999999999" />
<line x1="579.70" y1="183.30" x2="589.70" y2="183.30" stroke="#1a1ac8" stroke-width="0.5599999999999999" />
<line x1="579.70" y1="191.60" x2="589.70" y2="191.60" stroke="#1a1ac8" stroke-width="0.5599999999999999" />
<rect x="581.90" y="178.70" width="2.0" height="2.0" fill="#1a1ac8"/>
<rect x="584.50" y="178.70" width="2.0" height="2.0" fill="#1a1ac8"/>
<rect x="584.50" y="180.50" width="2.0" height="2.0" fill="#1a1ac8"/>
<rect x="581.60" y="196.20" width="2.0" height="2.0" fill="#1a1ac8"/>
<rect x="571.70" y="184.70" width="2.0" height="2.0" fill="#1a1ac8"/>
<rect x="574.40" y="184.70" width="2.0" height="2.0" fill="#1a1ac8"/>
<rect x="577.10" y="184.70" width="2.0" height="2.0" fill="#1a1ac8"/>
<rect x="579.80" y="184.70" width="2.0" height="2.0" fill="#1a1ac8"/>
<rect x="582.50" y="184.70" width="2.0" height="2.0" fill="#1a1ac8"/>
<rect x="585.20" y="184.70" width="2.0" height="2.0" fill="#1a1ac8"/>
<rect x="587.90" y="184.70" width="2.0" height="2.0" fill="#1a1ac8"/>
<rect x="590.60" y="184.70" width="2.0" height="2.0" fill="#1a1ac8"/>
<rect x="593.30" y="184.70" width="2.0" height="2.0" fill="#1a1ac8"/>
<rect x="571.70" y="186.50" width="2.0" height="2.0" fill="#1a1ac8"/>
<rect x="574.40" y="186.50" width="2.0" height="2.0" fill="#1a1ac8"/>
<rect x="577.10" y="186.50" width="2.0" height="2.0" fill="#1a1ac8"/>
<rect x="579.80" y="186.50" width="2.0" height="2.0" fill="#1a1ac8"/>
<rect x="582.50" y="186.50" width="2.0" height="2.0" fill="#1a1ac8"/>
<rect x="585.20" y="186.50" width="2.0" height="2.0" fill="#1a1ac8"/>
<rect x="587.90" y="186.50" width="2.0" height="2.0" fill="#1a1ac8"/>
<rect x="590.60" y="186.50" width="2.0" height="2.0" fill="#1a1ac8"/>
<rect x="593.30" y="186.50" width="2.0" height="2.0" fill="#1a1ac8"/>
<rect x="579.00" y="188.30" width="2.0" height="2.0" fill="#1a1ac8"/>
<rect x="581.70" y="188.30" width="2.0" height="2.0" fill="#1a1ac8"/>
<rect x="584.40" y="188.30" width="2.0" height="2.0" fill="#1a1ac8"/>
<rect x="587.10" y="188.30" width="2.0" height="2.0" fill="#1a1ac8"/>
<rect x="589.80" y="188.30" width="2.0" height="2.0" fill="#1a1ac8"/>
<rect x="578.90" y="190.60" width="2.0" height="2.0" fill="#1a1ac8"/>
<rect x="581.50" y="190.60" width="2.0" height="2.0" fill="#1a1ac8"/>
<rect x="585.20" y="190.60" width="2.0" height="2.0" fill="#1a1ac8"/>
<rect x="587.80" y="190.60" width="2.0" height="2.0" fill="#1a1ac8"/>
<line x1="606.50" y1="200.40" x2="628.60" y2="200.40" stroke="#f01818" stroke-width="0.8" />
<line x1="617.60" y1="185.70" x2="617.60" y2="214.70" stroke="#f01818" stroke-width="0.6" />
<line x1="612.00" y1="185.70" x2="620.70" y2="185.70" stroke="#f09090" stroke-width="0.7" />
<line x1="610.10" y1="214.70" x2="622.60" y2="214.70" stroke="#f01818" stroke-width="0.6" />
<path d="M617.40,172.84 L618.80,175.36 L616.00,175.36Z" fill="#f01818"/>
<path d="M621.00,175.74 L622.40,178.26 L619.60,178.26Z" fill="#f01818"/>
<path d="M617.40,177.64 L618.80,180.16 L616.00,180.16Z" fill="#f01818"/>
<path d="M617.40,179.64 L618.80,182.16 L616.00,182.16Z" fill="#f01818"/>
<path d="M617.40,182.04 L618.80,184.56 L616.00,184.56Z" fill="#f01818"/>
<path d="M617.40,185.64 L618.80,188.16 L616.00,188.16Z" fill="#f01818"/>
<path d="M621.00,185.64 L622.40,188.16 L619.60,188.16Z" fill="#f01818"/>
<path d="M617.40,189.24 L618.80,191.76 L616.00,191.76Z" fill="#f01818"/>
<path d="M617.40,192.74 L618.80,195.26 L616.00,195.26Z" fill="#f01818"/>
<path d="M617.90,201.24 L619.30,203.76 L616.50,203.76Z" fill="#f01818"/>
<path d="M610.50,204.14 L611.90,206.66 L609.10,206.66Z" fill="#f01818"/>
<path d="M610.50,205.64 L611.90,208.16 L609.10,208.16Z" fill="#f01818"/>
<path d="M614.30,205.04 L615.70,207.56 L612.90,207.56Z" fill="#f01818"/>
<path d="M621.40,205.04 L622.80,207.56 L620.00,207.56Z" fill="#f01818"/>
<path d="M624.40,204.84 L625.80,207.36 L623.00,207.36Z" fill="#f01818"/>
<path d="M614.30,208.64 L615.70,211.16 L612.90,211.16Z" fill="#f01818"/>
<path d="M617.90,208.64 L619.30,211.16 L616.50,211.16Z" fill="#f01818"/>
<path d="M621.40,208.04 L622.80,210.56 L620.00,210.56Z" fill="#f01818"/>
<path d="M610.50,214.64 L611.90,217.16 L609.10,217.16Z" fill="#f01818"/>
<path d="M614.30,214.64 L615.70,217.16 L612.90,217.16Z" fill="#f01818"/>
<path d="M617.90,214.64 L619.30,217.16 L616.50,217.16Z" fill="#f01818"/>
<path d="M621.40,214.64 L622.80,217.16 L620.00,217.16Z" fill="#f01818"/>
<path d="M624.40,214.64 L625.80,217.16 L623.00,217.16Z" fill="#f01818"/>
<path d="M614.30,216.34 L615.70,218.86 L612.90,218.86Z" fill="#f01818"/>
<path d="M621.40,216.34 L622.80,218.86 L620.00,218.86Z" fill="#f01818"/>
<path d="M614.30,218.14 L615.70,220.66 L612.90,220.66Z" fill="#f01818"/>
<line x1="640.50" y1="211.10" x2="662.50" y2="211.10" stroke="#1f8a1f" stroke-width="0.7" />
<path d="M653.00,201.83 L654.30,204.17 L651.70,204.17Z" fill="#1f8a1f"/>
<path d="M642.90,205.13 L644.20,207.47 L641.60,207.47Z" fill="#1f8a1f"/>
<path d="M645.80,205.13 L647.10,207.47 L644.50,207.47Z" fill="#1f8a1f"/>
<path d="M649.40,205.13 L650.70,207.47 L648.10,207.47Z" fill="#1f8a1f"/>
<path d="M652.40,205.13 L653.70,207.47 L651.10,207.47Z" fill="#1f8a1f"/>
<path d="M655.40,205.13 L656.70,207.47 L654.10,207.47Z" fill="#1f8a1f"/>
<path d="M658.30,205.13 L659.60,207.47 L657.00,207.47Z" fill="#1f8a1f"/>
<path d="M660.10,205.13 L661.40,207.47 L658.80,207.47Z" fill="#1f8a1f"/>
<path d="M645.80,206.93 L647.10,209.27 L644.50,209.27Z" fill="#1f8a1f"/>
<path d="M652.40,206.93 L653.70,209.27 L651.10,209.27Z" fill="#1f8a1f"/>
<path d="M655.40,206.93 L656.70,209.27 L654.10,209.27Z" fill="#1f8a1f"/>
<path d="M660.10,206.93 L661.40,209.27 L658.80,209.27Z" fill="#1f8a1f"/>
<path d="M649.40,208.73 L650.70,211.07 L648.10,211.07Z" fill="#1f8a1f"/>
<path d="M652.40,208.73 L653.70,211.07 L651.10,211.07Z" fill="#1f8a1f"/>
<path d="M658.30,208.73 L659.60,211.07 L657.00,211.07Z" fill="#1f8a1f"/>
<path d="M642.60,210.53 L643.90,212.87 L641.30,212.87Z" fill="#1f8a1f"/>
<path d="M649.40,210.53 L650.70,212.87 L648.10,212.87Z" fill="#1f8a1f"/>
<path d="M655.40,210.53 L656.70,212.87 L654.10,212.87Z" fill="#1f8a1f"/>
<path d="M660.10,210.53 L661.40,212.87 L658.80,212.87Z" fill="#1f8a1f"/>
<path d="M645.80,213.53 L647.10,215.87 L644.50,215.87Z" fill="#1f8a1f"/>
<path d="M649.40,213.53 L650.70,215.87 L648.10,215.87Z" fill="#1f8a1f"/>
<path d="M652.40,213.53 L653.70,215.87 L651.10,215.87Z" fill="#1f8a1f"/>
<path d="M656.50,213.53 L657.80,215.87 L655.20,215.87Z" fill="#1f8a1f"/>
<path d="M645.80,215.33 L647.10,217.67 L644.50,217.67Z" fill="#1f8a1f"/>
<path d="M652.40,215.33 L653.70,217.67 L651.10,217.67Z" fill="#1f8a1f"/>
<path d="M656.50,215.33 L657.80,217.67 L655.20,217.67Z" fill="#1f8a1f"/>
<path d="M645.80,217.63 L647.10,219.97 L644.50,219.97Z" fill="#1f8a1f"/>
<path d="M649.40,217.63 L650.70,219.97 L648.10,219.97Z" fill="#1f8a1f"/>
</svg></body></html>
